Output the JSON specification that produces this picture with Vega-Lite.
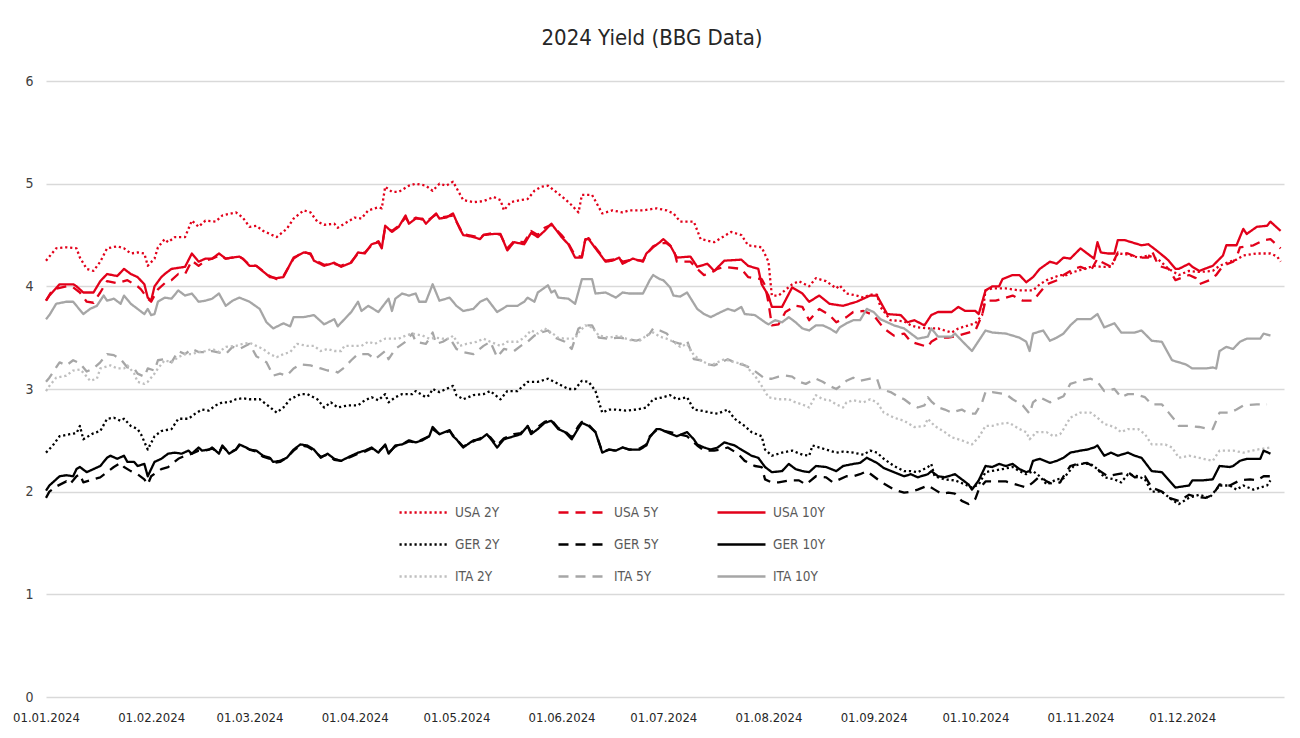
{
"$schema":"https://vega.github.io/schema/vega-lite/v6.json",
"width":1238,"height":616,
"autosize":{"type":"none"},
"padding":{"left":46,"top":81,"right":16,"bottom":41},
"background":"white",
"title":{"text":"2024 Yield (BBG Data)","fontSize":22,"font":"Liberation Sans Narrow, DejaVu Sans Condensed, Roboto","fontWeight":"normal","color":"#262626","anchor":"middle","dx":-13,"offset":24},
"data":{"values":[
{"d":"2024-01-01","s":"USA 10Y","v":3.86},{"d":"2024-01-02","s":"USA 10Y","v":3.91},{"d":"2024-01-05","s":"USA 10Y","v":4.02},{"d":"2024-01-09","s":"USA 10Y","v":4.02},{"d":"2024-01-10","s":"USA 10Y","v":4.0},{"d":"2024-01-12","s":"USA 10Y","v":3.94},{"d":"2024-01-15","s":"USA 10Y","v":3.94},{"d":"2024-01-17","s":"USA 10Y","v":4.05},{"d":"2024-01-19","s":"USA 10Y","v":4.12},{"d":"2024-01-22","s":"USA 10Y","v":4.1},{"d":"2024-01-24","s":"USA 10Y","v":4.17},{"d":"2024-01-26","s":"USA 10Y","v":4.12},{"d":"2024-01-28","s":"USA 10Y","v":4.09},{"d":"2024-01-30","s":"USA 10Y","v":4.02},{"d":"2024-01-31","s":"USA 10Y","v":3.89},{"d":"2024-02-01","s":"USA 10Y","v":3.86},{"d":"2024-02-02","s":"USA 10Y","v":4.0},{"d":"2024-02-04","s":"USA 10Y","v":4.09},{"d":"2024-02-05","s":"USA 10Y","v":4.12},{"d":"2024-02-07","s":"USA 10Y","v":4.17},{"d":"2024-02-11","s":"USA 10Y","v":4.19},{"d":"2024-02-13","s":"USA 10Y","v":4.32},{"d":"2024-02-15","s":"USA 10Y","v":4.24},{"d":"2024-02-17","s":"USA 10Y","v":4.27},{"d":"2024-02-19","s":"USA 10Y","v":4.27},{"d":"2024-02-21","s":"USA 10Y","v":4.32},{"d":"2024-02-23","s":"USA 10Y","v":4.27},{"d":"2024-02-27","s":"USA 10Y","v":4.29},{"d":"2024-02-28","s":"USA 10Y","v":4.27},{"d":"2024-03-01","s":"USA 10Y","v":4.2},{"d":"2024-03-03","s":"USA 10Y","v":4.2},{"d":"2024-03-07","s":"USA 10Y","v":4.09},{"d":"2024-03-09","s":"USA 10Y","v":4.08},{"d":"2024-03-11","s":"USA 10Y","v":4.09},{"d":"2024-03-14","s":"USA 10Y","v":4.28},{"d":"2024-03-17","s":"USA 10Y","v":4.33},{"d":"2024-03-19","s":"USA 10Y","v":4.32},{"d":"2024-03-20","s":"USA 10Y","v":4.25},{"d":"2024-03-23","s":"USA 10Y","v":4.2},{"d":"2024-03-26","s":"USA 10Y","v":4.23},{"d":"2024-03-28","s":"USA 10Y","v":4.19},{"d":"2024-03-31","s":"USA 10Y","v":4.23},{"d":"2024-04-02","s":"USA 10Y","v":4.33},{"d":"2024-04-04","s":"USA 10Y","v":4.32},{"d":"2024-04-06","s":"USA 10Y","v":4.41},{"d":"2024-04-08","s":"USA 10Y","v":4.43},{"d":"2024-04-09","s":"USA 10Y","v":4.37},{"d":"2024-04-10","s":"USA 10Y","v":4.59},{"d":"2024-04-12","s":"USA 10Y","v":4.53},{"d":"2024-04-14","s":"USA 10Y","v":4.58},{"d":"2024-04-16","s":"USA 10Y","v":4.69},{"d":"2024-04-17","s":"USA 10Y","v":4.61},{"d":"2024-04-19","s":"USA 10Y","v":4.66},{"d":"2024-04-21","s":"USA 10Y","v":4.66},{"d":"2024-04-22","s":"USA 10Y","v":4.61},{"d":"2024-04-25","s":"USA 10Y","v":4.71},{"d":"2024-04-26","s":"USA 10Y","v":4.66},{"d":"2024-04-28","s":"USA 10Y","v":4.67},{"d":"2024-04-30","s":"USA 10Y","v":4.71},{"d":"2024-05-02","s":"USA 10Y","v":4.56},{"d":"2024-05-03","s":"USA 10Y","v":4.5},{"d":"2024-05-06","s":"USA 10Y","v":4.48},{"d":"2024-05-08","s":"USA 10Y","v":4.46},{"d":"2024-05-09","s":"USA 10Y","v":4.5},{"d":"2024-05-12","s":"USA 10Y","v":4.51},{"d":"2024-05-14","s":"USA 10Y","v":4.51},{"d":"2024-05-16","s":"USA 10Y","v":4.35},{"d":"2024-05-18","s":"USA 10Y","v":4.43},{"d":"2024-05-21","s":"USA 10Y","v":4.41},{"d":"2024-05-23","s":"USA 10Y","v":4.52},{"d":"2024-05-25","s":"USA 10Y","v":4.48},{"d":"2024-05-27","s":"USA 10Y","v":4.54},{"d":"2024-05-29","s":"USA 10Y","v":4.61},{"d":"2024-06-01","s":"USA 10Y","v":4.48},{"d":"2024-06-03","s":"USA 10Y","v":4.41},{"d":"2024-06-05","s":"USA 10Y","v":4.28},{"d":"2024-06-07","s":"USA 10Y","v":4.28},{"d":"2024-06-08","s":"USA 10Y","v":4.46},{"d":"2024-06-09","s":"USA 10Y","v":4.46},{"d":"2024-06-11","s":"USA 10Y","v":4.37},{"d":"2024-06-14","s":"USA 10Y","v":4.24},{"d":"2024-06-16","s":"USA 10Y","v":4.25},{"d":"2024-06-18","s":"USA 10Y","v":4.28},{"d":"2024-06-19","s":"USA 10Y","v":4.22},{"d":"2024-06-22","s":"USA 10Y","v":4.27},{"d":"2024-06-25","s":"USA 10Y","v":4.24},{"d":"2024-06-26","s":"USA 10Y","v":4.32},{"d":"2024-06-28","s":"USA 10Y","v":4.38},{"d":"2024-06-30","s":"USA 10Y","v":4.43},{"d":"2024-07-01","s":"USA 10Y","v":4.46},{"d":"2024-07-03","s":"USA 10Y","v":4.4},{"d":"2024-07-05","s":"USA 10Y","v":4.28},{"d":"2024-07-09","s":"USA 10Y","v":4.29},{"d":"2024-07-11","s":"USA 10Y","v":4.19},{"d":"2024-07-14","s":"USA 10Y","v":4.22},{"d":"2024-07-16","s":"USA 10Y","v":4.15},{"d":"2024-07-19","s":"USA 10Y","v":4.25},{"d":"2024-07-24","s":"USA 10Y","v":4.26},{"d":"2024-07-26","s":"USA 10Y","v":4.2},{"d":"2024-07-29","s":"USA 10Y","v":4.17},{"d":"2024-07-30","s":"USA 10Y","v":4.02},{"d":"2024-08-01","s":"USA 10Y","v":3.91},{"d":"2024-08-02","s":"USA 10Y","v":3.8},{"d":"2024-08-05","s":"USA 10Y","v":3.8},{"d":"2024-08-08","s":"USA 10Y","v":3.99},{"d":"2024-08-11","s":"USA 10Y","v":3.93},{"d":"2024-08-13","s":"USA 10Y","v":3.85},{"d":"2024-08-16","s":"USA 10Y","v":3.91},{"d":"2024-08-19","s":"USA 10Y","v":3.83},{"d":"2024-08-23","s":"USA 10Y","v":3.81},{"d":"2024-08-27","s":"USA 10Y","v":3.85},{"d":"2024-08-29","s":"USA 10Y","v":3.88},{"d":"2024-08-31","s":"USA 10Y","v":3.91},{"d":"2024-09-02","s":"USA 10Y","v":3.91},{"d":"2024-09-05","s":"USA 10Y","v":3.73},{"d":"2024-09-09","s":"USA 10Y","v":3.72},{"d":"2024-09-11","s":"USA 10Y","v":3.65},{"d":"2024-09-13","s":"USA 10Y","v":3.67},{"d":"2024-09-16","s":"USA 10Y","v":3.62},{"d":"2024-09-18","s":"USA 10Y","v":3.72},{"d":"2024-09-20","s":"USA 10Y","v":3.75},{"d":"2024-09-24","s":"USA 10Y","v":3.75},{"d":"2024-09-26","s":"USA 10Y","v":3.8},{"d":"2024-09-28","s":"USA 10Y","v":3.76},{"d":"2024-10-01","s":"USA 10Y","v":3.76},{"d":"2024-10-02","s":"USA 10Y","v":3.73},{"d":"2024-10-04","s":"USA 10Y","v":3.96},{"d":"2024-10-06","s":"USA 10Y","v":4.0},{"d":"2024-10-08","s":"USA 10Y","v":4.0},{"d":"2024-10-09","s":"USA 10Y","v":4.07},{"d":"2024-10-12","s":"USA 10Y","v":4.11},{"d":"2024-10-14","s":"USA 10Y","v":4.11},{"d":"2024-10-16","s":"USA 10Y","v":4.04},{"d":"2024-10-18","s":"USA 10Y","v":4.09},{"d":"2024-10-20","s":"USA 10Y","v":4.17},{"d":"2024-10-23","s":"USA 10Y","v":4.24},{"d":"2024-10-25","s":"USA 10Y","v":4.22},{"d":"2024-10-27","s":"USA 10Y","v":4.28},{"d":"2024-10-29","s":"USA 10Y","v":4.27},{"d":"2024-11-01","s":"USA 10Y","v":4.37},{"d":"2024-11-03","s":"USA 10Y","v":4.32},{"d":"2024-11-05","s":"USA 10Y","v":4.27},{"d":"2024-11-06","s":"USA 10Y","v":4.43},{"d":"2024-11-07","s":"USA 10Y","v":4.33},{"d":"2024-11-09","s":"USA 10Y","v":4.32},{"d":"2024-11-11","s":"USA 10Y","v":4.32},{"d":"2024-11-12","s":"USA 10Y","v":4.45},{"d":"2024-11-14","s":"USA 10Y","v":4.45},{"d":"2024-11-16","s":"USA 10Y","v":4.43},{"d":"2024-11-19","s":"USA 10Y","v":4.4},{"d":"2024-11-21","s":"USA 10Y","v":4.41},{"d":"2024-11-23","s":"USA 10Y","v":4.36},{"d":"2024-11-26","s":"USA 10Y","v":4.28},{"d":"2024-11-27","s":"USA 10Y","v":4.25},{"d":"2024-11-29","s":"USA 10Y","v":4.17},{"d":"2024-11-30","s":"USA 10Y","v":4.17},{"d":"2024-12-03","s":"USA 10Y","v":4.22},{"d":"2024-12-04","s":"USA 10Y","v":4.19},{"d":"2024-12-06","s":"USA 10Y","v":4.15},{"d":"2024-12-10","s":"USA 10Y","v":4.2},{"d":"2024-12-13","s":"USA 10Y","v":4.3},{"d":"2024-12-14","s":"USA 10Y","v":4.4},{"d":"2024-12-17","s":"USA 10Y","v":4.4},{"d":"2024-12-19","s":"USA 10Y","v":4.56},{"d":"2024-12-20","s":"USA 10Y","v":4.51},{"d":"2024-12-23","s":"USA 10Y","v":4.58},{"d":"2024-12-26","s":"USA 10Y","v":4.59},{"d":"2024-12-27","s":"USA 10Y","v":4.63},{"d":"2024-12-30","s":"USA 10Y","v":4.54},
{"d":"2024-01-01","s":"USA 5Y","v":3.86},{"d":"2024-01-03","s":"USA 5Y","v":3.97},{"d":"2024-01-07","s":"USA 5Y","v":4.0},{"d":"2024-01-09","s":"USA 5Y","v":3.99},{"d":"2024-01-11","s":"USA 5Y","v":3.94},{"d":"2024-01-13","s":"USA 5Y","v":3.85},{"d":"2024-01-15","s":"USA 5Y","v":3.84},{"d":"2024-01-17","s":"USA 5Y","v":3.94},{"d":"2024-01-19","s":"USA 5Y","v":4.05},{"d":"2024-01-22","s":"USA 5Y","v":4.03},{"d":"2024-01-25","s":"USA 5Y","v":4.06},{"d":"2024-01-28","s":"USA 5Y","v":4.0},{"d":"2024-01-29","s":"USA 5Y","v":3.97},{"d":"2024-01-31","s":"USA 5Y","v":3.88},{"d":"2024-02-01","s":"USA 5Y","v":3.85},{"d":"2024-02-03","s":"USA 5Y","v":3.97},{"d":"2024-02-05","s":"USA 5Y","v":4.03},{"d":"2024-02-07","s":"USA 5Y","v":4.06},{"d":"2024-02-09","s":"USA 5Y","v":4.12},{"d":"2024-02-11","s":"USA 5Y","v":4.12},{"d":"2024-02-13","s":"USA 5Y","v":4.25},{"d":"2024-02-15","s":"USA 5Y","v":4.2},{"d":"2024-02-17","s":"USA 5Y","v":4.25},{"d":"2024-02-19","s":"USA 5Y","v":4.27},{"d":"2024-02-21","s":"USA 5Y","v":4.3},{"d":"2024-02-23","s":"USA 5Y","v":4.27},{"d":"2024-02-27","s":"USA 5Y","v":4.29},{"d":"2024-02-28","s":"USA 5Y","v":4.27},{"d":"2024-03-01","s":"USA 5Y","v":4.21},{"d":"2024-03-03","s":"USA 5Y","v":4.2},{"d":"2024-03-07","s":"USA 5Y","v":4.1},{"d":"2024-03-09","s":"USA 5Y","v":4.07},{"d":"2024-03-11","s":"USA 5Y","v":4.1},{"d":"2024-03-14","s":"USA 5Y","v":4.27},{"d":"2024-03-17","s":"USA 5Y","v":4.34},{"d":"2024-03-19","s":"USA 5Y","v":4.31},{"d":"2024-03-20","s":"USA 5Y","v":4.26},{"d":"2024-03-23","s":"USA 5Y","v":4.21},{"d":"2024-03-26","s":"USA 5Y","v":4.22},{"d":"2024-03-28","s":"USA 5Y","v":4.2},{"d":"2024-03-31","s":"USA 5Y","v":4.24},{"d":"2024-04-02","s":"USA 5Y","v":4.32},{"d":"2024-04-04","s":"USA 5Y","v":4.33},{"d":"2024-04-06","s":"USA 5Y","v":4.4},{"d":"2024-04-08","s":"USA 5Y","v":4.44},{"d":"2024-04-09","s":"USA 5Y","v":4.38},{"d":"2024-04-10","s":"USA 5Y","v":4.57},{"d":"2024-04-12","s":"USA 5Y","v":4.54},{"d":"2024-04-14","s":"USA 5Y","v":4.59},{"d":"2024-04-16","s":"USA 5Y","v":4.67},{"d":"2024-04-17","s":"USA 5Y","v":4.62},{"d":"2024-04-19","s":"USA 5Y","v":4.67},{"d":"2024-04-21","s":"USA 5Y","v":4.65},{"d":"2024-04-22","s":"USA 5Y","v":4.63},{"d":"2024-04-25","s":"USA 5Y","v":4.7},{"d":"2024-04-26","s":"USA 5Y","v":4.67},{"d":"2024-04-28","s":"USA 5Y","v":4.68},{"d":"2024-04-30","s":"USA 5Y","v":4.69},{"d":"2024-05-02","s":"USA 5Y","v":4.57},{"d":"2024-05-03","s":"USA 5Y","v":4.51},{"d":"2024-05-06","s":"USA 5Y","v":4.49},{"d":"2024-05-08","s":"USA 5Y","v":4.47},{"d":"2024-05-09","s":"USA 5Y","v":4.5},{"d":"2024-05-12","s":"USA 5Y","v":4.52},{"d":"2024-05-14","s":"USA 5Y","v":4.5},{"d":"2024-05-16","s":"USA 5Y","v":4.37},{"d":"2024-05-18","s":"USA 5Y","v":4.44},{"d":"2024-05-21","s":"USA 5Y","v":4.43},{"d":"2024-05-23","s":"USA 5Y","v":4.54},{"d":"2024-05-25","s":"USA 5Y","v":4.5},{"d":"2024-05-27","s":"USA 5Y","v":4.57},{"d":"2024-05-29","s":"USA 5Y","v":4.6},{"d":"2024-06-01","s":"USA 5Y","v":4.5},{"d":"2024-06-03","s":"USA 5Y","v":4.42},{"d":"2024-06-05","s":"USA 5Y","v":4.3},{"d":"2024-06-07","s":"USA 5Y","v":4.29},{"d":"2024-06-08","s":"USA 5Y","v":4.45},{"d":"2024-06-09","s":"USA 5Y","v":4.47},{"d":"2024-06-11","s":"USA 5Y","v":4.38},{"d":"2024-06-14","s":"USA 5Y","v":4.25},{"d":"2024-06-16","s":"USA 5Y","v":4.26},{"d":"2024-06-18","s":"USA 5Y","v":4.27},{"d":"2024-06-19","s":"USA 5Y","v":4.24},{"d":"2024-06-22","s":"USA 5Y","v":4.26},{"d":"2024-06-25","s":"USA 5Y","v":4.25},{"d":"2024-06-26","s":"USA 5Y","v":4.31},{"d":"2024-06-28","s":"USA 5Y","v":4.39},{"d":"2024-06-30","s":"USA 5Y","v":4.42},{"d":"2024-07-02","s":"USA 5Y","v":4.42},{"d":"2024-07-04","s":"USA 5Y","v":4.37},{"d":"2024-07-05","s":"USA 5Y","v":4.24},{"d":"2024-07-09","s":"USA 5Y","v":4.24},{"d":"2024-07-11","s":"USA 5Y","v":4.17},{"d":"2024-07-13","s":"USA 5Y","v":4.11},{"d":"2024-07-15","s":"USA 5Y","v":4.13},{"d":"2024-07-17","s":"USA 5Y","v":4.17},{"d":"2024-07-19","s":"USA 5Y","v":4.19},{"d":"2024-07-24","s":"USA 5Y","v":4.17},{"d":"2024-07-26","s":"USA 5Y","v":4.09},{"d":"2024-07-30","s":"USA 5Y","v":4.07},{"d":"2024-07-31","s":"USA 5Y","v":4.01},{"d":"2024-08-01","s":"USA 5Y","v":3.84},{"d":"2024-08-02","s":"USA 5Y","v":3.62},{"d":"2024-08-04","s":"USA 5Y","v":3.63},{"d":"2024-08-06","s":"USA 5Y","v":3.75},{"d":"2024-08-09","s":"USA 5Y","v":3.81},{"d":"2024-08-11","s":"USA 5Y","v":3.8},{"d":"2024-08-13","s":"USA 5Y","v":3.67},{"d":"2024-08-16","s":"USA 5Y","v":3.78},{"d":"2024-08-19","s":"USA 5Y","v":3.72},{"d":"2024-08-21","s":"USA 5Y","v":3.65},{"d":"2024-08-24","s":"USA 5Y","v":3.7},{"d":"2024-08-26","s":"USA 5Y","v":3.75},{"d":"2024-08-29","s":"USA 5Y","v":3.76},{"d":"2024-09-01","s":"USA 5Y","v":3.72},{"d":"2024-09-04","s":"USA 5Y","v":3.59},{"d":"2024-09-07","s":"USA 5Y","v":3.52},{"d":"2024-09-10","s":"USA 5Y","v":3.54},{"d":"2024-09-12","s":"USA 5Y","v":3.46},{"d":"2024-09-14","s":"USA 5Y","v":3.44},{"d":"2024-09-17","s":"USA 5Y","v":3.41},{"d":"2024-09-18","s":"USA 5Y","v":3.46},{"d":"2024-09-20","s":"USA 5Y","v":3.5},{"d":"2024-09-23","s":"USA 5Y","v":3.5},{"d":"2024-09-26","s":"USA 5Y","v":3.52},{"d":"2024-09-29","s":"USA 5Y","v":3.55},{"d":"2024-10-01","s":"USA 5Y","v":3.57},{"d":"2024-10-03","s":"USA 5Y","v":3.72},{"d":"2024-10-04","s":"USA 5Y","v":3.86},{"d":"2024-10-07","s":"USA 5Y","v":3.86},{"d":"2024-10-10","s":"USA 5Y","v":3.89},{"d":"2024-10-12","s":"USA 5Y","v":3.91},{"d":"2024-10-15","s":"USA 5Y","v":3.86},{"d":"2024-10-18","s":"USA 5Y","v":3.86},{"d":"2024-10-20","s":"USA 5Y","v":3.94},{"d":"2024-10-22","s":"USA 5Y","v":4.02},{"d":"2024-10-26","s":"USA 5Y","v":4.07},{"d":"2024-10-27","s":"USA 5Y","v":4.11},{"d":"2024-10-30","s":"USA 5Y","v":4.17},{"d":"2024-11-01","s":"USA 5Y","v":4.19},{"d":"2024-11-04","s":"USA 5Y","v":4.15},{"d":"2024-11-06","s":"USA 5Y","v":4.27},{"d":"2024-11-07","s":"USA 5Y","v":4.24},{"d":"2024-11-10","s":"USA 5Y","v":4.19},{"d":"2024-11-12","s":"USA 5Y","v":4.33},{"d":"2024-11-15","s":"USA 5Y","v":4.32},{"d":"2024-11-18","s":"USA 5Y","v":4.28},{"d":"2024-11-21","s":"USA 5Y","v":4.28},{"d":"2024-11-22","s":"USA 5Y","v":4.35},{"d":"2024-11-24","s":"USA 5Y","v":4.2},{"d":"2024-11-27","s":"USA 5Y","v":4.17},{"d":"2024-11-29","s":"USA 5Y","v":4.06},{"d":"2024-12-03","s":"USA 5Y","v":4.11},{"d":"2024-12-05","s":"USA 5Y","v":4.08},{"d":"2024-12-06","s":"USA 5Y","v":4.02},{"d":"2024-12-09","s":"USA 5Y","v":4.06},{"d":"2024-12-11","s":"USA 5Y","v":4.11},{"d":"2024-12-13","s":"USA 5Y","v":4.2},{"d":"2024-12-16","s":"USA 5Y","v":4.24},{"d":"2024-12-17","s":"USA 5Y","v":4.28},{"d":"2024-12-18","s":"USA 5Y","v":4.38},{"d":"2024-12-22","s":"USA 5Y","v":4.4},{"d":"2024-12-25","s":"USA 5Y","v":4.45},{"d":"2024-12-27","s":"USA 5Y","v":4.46},{"d":"2024-12-30","s":"USA 5Y","v":4.37},
{"d":"2024-01-01","s":"USA 2Y","v":4.25},{"d":"2024-01-04","s":"USA 2Y","v":4.37},{"d":"2024-01-07","s":"USA 2Y","v":4.38},{"d":"2024-01-10","s":"USA 2Y","v":4.37},{"d":"2024-01-11","s":"USA 2Y","v":4.28},{"d":"2024-01-13","s":"USA 2Y","v":4.17},{"d":"2024-01-15","s":"USA 2Y","v":4.15},{"d":"2024-01-17","s":"USA 2Y","v":4.24},{"d":"2024-01-19","s":"USA 2Y","v":4.37},{"d":"2024-01-22","s":"USA 2Y","v":4.39},{"d":"2024-01-24","s":"USA 2Y","v":4.37},{"d":"2024-01-26","s":"USA 2Y","v":4.32},{"d":"2024-01-28","s":"USA 2Y","v":4.33},{"d":"2024-01-30","s":"USA 2Y","v":4.32},{"d":"2024-01-31","s":"USA 2Y","v":4.2},{"d":"2024-02-02","s":"USA 2Y","v":4.27},{"d":"2024-02-03","s":"USA 2Y","v":4.38},{"d":"2024-02-05","s":"USA 2Y","v":4.46},{"d":"2024-02-06","s":"USA 2Y","v":4.43},{"d":"2024-02-08","s":"USA 2Y","v":4.48},{"d":"2024-02-11","s":"USA 2Y","v":4.48},{"d":"2024-02-13","s":"USA 2Y","v":4.64},{"d":"2024-02-15","s":"USA 2Y","v":4.58},{"d":"2024-02-17","s":"USA 2Y","v":4.64},{"d":"2024-02-20","s":"USA 2Y","v":4.63},{"d":"2024-02-22","s":"USA 2Y","v":4.69},{"d":"2024-02-26","s":"USA 2Y","v":4.72},{"d":"2024-02-28","s":"USA 2Y","v":4.67},{"d":"2024-03-01","s":"USA 2Y","v":4.58},{"d":"2024-03-03","s":"USA 2Y","v":4.59},{"d":"2024-03-05","s":"USA 2Y","v":4.54},{"d":"2024-03-09","s":"USA 2Y","v":4.48},{"d":"2024-03-12","s":"USA 2Y","v":4.56},{"d":"2024-03-14","s":"USA 2Y","v":4.66},{"d":"2024-03-17","s":"USA 2Y","v":4.74},{"d":"2024-03-19","s":"USA 2Y","v":4.72},{"d":"2024-03-21","s":"USA 2Y","v":4.63},{"d":"2024-03-23","s":"USA 2Y","v":4.6},{"d":"2024-03-26","s":"USA 2Y","v":4.61},{"d":"2024-03-27","s":"USA 2Y","v":4.57},{"d":"2024-03-30","s":"USA 2Y","v":4.63},{"d":"2024-04-01","s":"USA 2Y","v":4.67},{"d":"2024-04-03","s":"USA 2Y","v":4.66},{"d":"2024-04-05","s":"USA 2Y","v":4.74},{"d":"2024-04-08","s":"USA 2Y","v":4.77},{"d":"2024-04-09","s":"USA 2Y","v":4.76},{"d":"2024-04-10","s":"USA 2Y","v":4.97},{"d":"2024-04-12","s":"USA 2Y","v":4.92},{"d":"2024-04-14","s":"USA 2Y","v":4.92},{"d":"2024-04-17","s":"USA 2Y","v":4.98},{"d":"2024-04-19","s":"USA 2Y","v":5.0},{"d":"2024-04-22","s":"USA 2Y","v":4.98},{"d":"2024-04-24","s":"USA 2Y","v":4.93},{"d":"2024-04-26","s":"USA 2Y","v":5.0},{"d":"2024-04-28","s":"USA 2Y","v":4.98},{"d":"2024-04-30","s":"USA 2Y","v":5.02},{"d":"2024-05-03","s":"USA 2Y","v":4.84},{"d":"2024-05-06","s":"USA 2Y","v":4.82},{"d":"2024-05-09","s":"USA 2Y","v":4.83},{"d":"2024-05-12","s":"USA 2Y","v":4.87},{"d":"2024-05-14","s":"USA 2Y","v":4.84},{"d":"2024-05-15","s":"USA 2Y","v":4.74},{"d":"2024-05-17","s":"USA 2Y","v":4.82},{"d":"2024-05-20","s":"USA 2Y","v":4.84},{"d":"2024-05-22","s":"USA 2Y","v":4.85},{"d":"2024-05-24","s":"USA 2Y","v":4.93},{"d":"2024-05-26","s":"USA 2Y","v":4.97},{"d":"2024-05-28","s":"USA 2Y","v":4.98},{"d":"2024-05-30","s":"USA 2Y","v":4.93},{"d":"2024-06-02","s":"USA 2Y","v":4.85},{"d":"2024-06-04","s":"USA 2Y","v":4.79},{"d":"2024-06-06","s":"USA 2Y","v":4.72},{"d":"2024-06-07","s":"USA 2Y","v":4.89},{"d":"2024-06-10","s":"USA 2Y","v":4.89},{"d":"2024-06-13","s":"USA 2Y","v":4.71},{"d":"2024-06-16","s":"USA 2Y","v":4.74},{"d":"2024-06-19","s":"USA 2Y","v":4.72},{"d":"2024-06-21","s":"USA 2Y","v":4.74},{"d":"2024-06-25","s":"USA 2Y","v":4.74},{"d":"2024-06-29","s":"USA 2Y","v":4.76},{"d":"2024-07-02","s":"USA 2Y","v":4.74},{"d":"2024-07-04","s":"USA 2Y","v":4.71},{"d":"2024-07-06","s":"USA 2Y","v":4.63},{"d":"2024-07-10","s":"USA 2Y","v":4.63},{"d":"2024-07-12","s":"USA 2Y","v":4.46},{"d":"2024-07-16","s":"USA 2Y","v":4.43},{"d":"2024-07-21","s":"USA 2Y","v":4.53},{"d":"2024-07-24","s":"USA 2Y","v":4.5},{"d":"2024-07-26","s":"USA 2Y","v":4.4},{"d":"2024-07-30","s":"USA 2Y","v":4.38},{"d":"2024-08-01","s":"USA 2Y","v":4.24},{"d":"2024-08-02","s":"USA 2Y","v":3.91},{"d":"2024-08-04","s":"USA 2Y","v":3.91},{"d":"2024-08-08","s":"USA 2Y","v":4.02},{"d":"2024-08-10","s":"USA 2Y","v":4.05},{"d":"2024-08-13","s":"USA 2Y","v":4.0},{"d":"2024-08-15","s":"USA 2Y","v":4.08},{"d":"2024-08-18","s":"USA 2Y","v":4.05},{"d":"2024-08-21","s":"USA 2Y","v":3.98},{"d":"2024-08-22","s":"USA 2Y","v":4.01},{"d":"2024-08-24","s":"USA 2Y","v":3.93},{"d":"2024-08-27","s":"USA 2Y","v":3.91},{"d":"2024-08-29","s":"USA 2Y","v":3.89},{"d":"2024-08-31","s":"USA 2Y","v":3.92},{"d":"2024-09-02","s":"USA 2Y","v":3.92},{"d":"2024-09-03","s":"USA 2Y","v":3.8},{"d":"2024-09-06","s":"USA 2Y","v":3.67},{"d":"2024-09-10","s":"USA 2Y","v":3.66},{"d":"2024-09-12","s":"USA 2Y","v":3.62},{"d":"2024-09-14","s":"USA 2Y","v":3.6},{"d":"2024-09-17","s":"USA 2Y","v":3.59},{"d":"2024-09-20","s":"USA 2Y","v":3.59},{"d":"2024-09-24","s":"USA 2Y","v":3.55},{"d":"2024-09-26","s":"USA 2Y","v":3.59},{"d":"2024-09-29","s":"USA 2Y","v":3.62},{"d":"2024-10-01","s":"USA 2Y","v":3.64},{"d":"2024-10-03","s":"USA 2Y","v":3.72},{"d":"2024-10-04","s":"USA 2Y","v":3.96},{"d":"2024-10-06","s":"USA 2Y","v":3.98},{"d":"2024-10-10","s":"USA 2Y","v":3.98},{"d":"2024-10-14","s":"USA 2Y","v":3.96},{"d":"2024-10-18","s":"USA 2Y","v":3.96},{"d":"2024-10-20","s":"USA 2Y","v":4.02},{"d":"2024-10-22","s":"USA 2Y","v":4.06},{"d":"2024-10-26","s":"USA 2Y","v":4.11},{"d":"2024-10-28","s":"USA 2Y","v":4.11},{"d":"2024-10-30","s":"USA 2Y","v":4.14},{"d":"2024-11-02","s":"USA 2Y","v":4.17},{"d":"2024-11-05","s":"USA 2Y","v":4.2},{"d":"2024-11-07","s":"USA 2Y","v":4.19},{"d":"2024-11-10","s":"USA 2Y","v":4.19},{"d":"2024-11-12","s":"USA 2Y","v":4.32},{"d":"2024-11-15","s":"USA 2Y","v":4.31},{"d":"2024-11-18","s":"USA 2Y","v":4.28},{"d":"2024-11-21","s":"USA 2Y","v":4.3},{"d":"2024-11-24","s":"USA 2Y","v":4.26},{"d":"2024-11-26","s":"USA 2Y","v":4.2},{"d":"2024-11-27","s":"USA 2Y","v":4.17},{"d":"2024-11-30","s":"USA 2Y","v":4.11},{"d":"2024-12-03","s":"USA 2Y","v":4.15},{"d":"2024-12-06","s":"USA 2Y","v":4.14},{"d":"2024-12-10","s":"USA 2Y","v":4.15},{"d":"2024-12-12","s":"USA 2Y","v":4.2},{"d":"2024-12-15","s":"USA 2Y","v":4.24},{"d":"2024-12-17","s":"USA 2Y","v":4.26},{"d":"2024-12-19","s":"USA 2Y","v":4.3},{"d":"2024-12-23","s":"USA 2Y","v":4.32},{"d":"2024-12-27","s":"USA 2Y","v":4.32},{"d":"2024-12-29","s":"USA 2Y","v":4.29},{"d":"2024-12-30","s":"USA 2Y","v":4.24},
{"d":"2024-01-01","s":"ITA 10Y","v":3.68},{"d":"2024-01-02","s":"ITA 10Y","v":3.72},{"d":"2024-01-04","s":"ITA 10Y","v":3.83},{"d":"2024-01-07","s":"ITA 10Y","v":3.85},{"d":"2024-01-09","s":"ITA 10Y","v":3.85},{"d":"2024-01-10","s":"ITA 10Y","v":3.81},{"d":"2024-01-12","s":"ITA 10Y","v":3.73},{"d":"2024-01-14","s":"ITA 10Y","v":3.78},{"d":"2024-01-16","s":"ITA 10Y","v":3.81},{"d":"2024-01-18","s":"ITA 10Y","v":3.91},{"d":"2024-01-19","s":"ITA 10Y","v":3.86},{"d":"2024-01-21","s":"ITA 10Y","v":3.88},{"d":"2024-01-23","s":"ITA 10Y","v":3.83},{"d":"2024-01-24","s":"ITA 10Y","v":3.91},{"d":"2024-01-26","s":"ITA 10Y","v":3.83},{"d":"2024-01-28","s":"ITA 10Y","v":3.78},{"d":"2024-01-30","s":"ITA 10Y","v":3.73},{"d":"2024-01-31","s":"ITA 10Y","v":3.78},{"d":"2024-02-01","s":"ITA 10Y","v":3.72},{"d":"2024-02-02","s":"ITA 10Y","v":3.73},{"d":"2024-02-03","s":"ITA 10Y","v":3.85},{"d":"2024-02-05","s":"ITA 10Y","v":3.89},{"d":"2024-02-07","s":"ITA 10Y","v":3.88},{"d":"2024-02-09","s":"ITA 10Y","v":3.96},{"d":"2024-02-11","s":"ITA 10Y","v":3.91},{"d":"2024-02-13","s":"ITA 10Y","v":3.93},{"d":"2024-02-15","s":"ITA 10Y","v":3.85},{"d":"2024-02-17","s":"ITA 10Y","v":3.86},{"d":"2024-02-19","s":"ITA 10Y","v":3.88},{"d":"2024-02-21","s":"ITA 10Y","v":3.93},{"d":"2024-02-23","s":"ITA 10Y","v":3.81},{"d":"2024-02-25","s":"ITA 10Y","v":3.86},{"d":"2024-02-27","s":"ITA 10Y","v":3.89},{"d":"2024-03-01","s":"ITA 10Y","v":3.85},{"d":"2024-03-04","s":"ITA 10Y","v":3.78},{"d":"2024-03-06","s":"ITA 10Y","v":3.65},{"d":"2024-03-08","s":"ITA 10Y","v":3.59},{"d":"2024-03-11","s":"ITA 10Y","v":3.64},{"d":"2024-03-13","s":"ITA 10Y","v":3.61},{"d":"2024-03-14","s":"ITA 10Y","v":3.7},{"d":"2024-03-17","s":"ITA 10Y","v":3.7},{"d":"2024-03-20","s":"ITA 10Y","v":3.72},{"d":"2024-03-23","s":"ITA 10Y","v":3.63},{"d":"2024-03-26","s":"ITA 10Y","v":3.68},{"d":"2024-03-27","s":"ITA 10Y","v":3.61},{"d":"2024-03-29","s":"ITA 10Y","v":3.68},{"d":"2024-03-31","s":"ITA 10Y","v":3.75},{"d":"2024-04-02","s":"ITA 10Y","v":3.85},{"d":"2024-04-03","s":"ITA 10Y","v":3.76},{"d":"2024-04-05","s":"ITA 10Y","v":3.81},{"d":"2024-04-08","s":"ITA 10Y","v":3.75},{"d":"2024-04-11","s":"ITA 10Y","v":3.88},{"d":"2024-04-12","s":"ITA 10Y","v":3.76},{"d":"2024-04-13","s":"ITA 10Y","v":3.88},{"d":"2024-04-15","s":"ITA 10Y","v":3.93},{"d":"2024-04-17","s":"ITA 10Y","v":3.91},{"d":"2024-04-19","s":"ITA 10Y","v":3.93},{"d":"2024-04-20","s":"ITA 10Y","v":3.85},{"d":"2024-04-22","s":"ITA 10Y","v":3.85},{"d":"2024-04-24","s":"ITA 10Y","v":4.02},{"d":"2024-04-26","s":"ITA 10Y","v":3.86},{"d":"2024-04-29","s":"ITA 10Y","v":3.89},{"d":"2024-05-01","s":"ITA 10Y","v":3.81},{"d":"2024-05-03","s":"ITA 10Y","v":3.76},{"d":"2024-05-06","s":"ITA 10Y","v":3.78},{"d":"2024-05-08","s":"ITA 10Y","v":3.85},{"d":"2024-05-10","s":"ITA 10Y","v":3.88},{"d":"2024-05-13","s":"ITA 10Y","v":3.75},{"d":"2024-05-16","s":"ITA 10Y","v":3.81},{"d":"2024-05-19","s":"ITA 10Y","v":3.81},{"d":"2024-05-21","s":"ITA 10Y","v":3.85},{"d":"2024-05-22","s":"ITA 10Y","v":3.89},{"d":"2024-05-24","s":"ITA 10Y","v":3.85},{"d":"2024-05-25","s":"ITA 10Y","v":3.94},{"d":"2024-05-28","s":"ITA 10Y","v":4.01},{"d":"2024-05-29","s":"ITA 10Y","v":3.94},{"d":"2024-05-30","s":"ITA 10Y","v":3.96},{"d":"2024-05-31","s":"ITA 10Y","v":3.89},{"d":"2024-06-03","s":"ITA 10Y","v":3.88},{"d":"2024-06-05","s":"ITA 10Y","v":3.83},{"d":"2024-06-07","s":"ITA 10Y","v":4.07},{"d":"2024-06-10","s":"ITA 10Y","v":4.07},{"d":"2024-06-11","s":"ITA 10Y","v":3.93},{"d":"2024-06-14","s":"ITA 10Y","v":3.94},{"d":"2024-06-17","s":"ITA 10Y","v":3.89},{"d":"2024-06-19","s":"ITA 10Y","v":3.94},{"d":"2024-06-21","s":"ITA 10Y","v":3.93},{"d":"2024-06-25","s":"ITA 10Y","v":3.93},{"d":"2024-06-27","s":"ITA 10Y","v":4.06},{"d":"2024-06-28","s":"ITA 10Y","v":4.11},{"d":"2024-06-30","s":"ITA 10Y","v":4.07},{"d":"2024-07-01","s":"ITA 10Y","v":4.06},{"d":"2024-07-03","s":"ITA 10Y","v":3.99},{"d":"2024-07-04","s":"ITA 10Y","v":3.91},{"d":"2024-07-06","s":"ITA 10Y","v":3.9},{"d":"2024-07-08","s":"ITA 10Y","v":3.94},{"d":"2024-07-11","s":"ITA 10Y","v":3.78},{"d":"2024-07-13","s":"ITA 10Y","v":3.73},{"d":"2024-07-15","s":"ITA 10Y","v":3.7},{"d":"2024-07-18","s":"ITA 10Y","v":3.75},{"d":"2024-07-20","s":"ITA 10Y","v":3.78},{"d":"2024-07-22","s":"ITA 10Y","v":3.76},{"d":"2024-07-24","s":"ITA 10Y","v":3.8},{"d":"2024-07-25","s":"ITA 10Y","v":3.73},{"d":"2024-07-28","s":"ITA 10Y","v":3.72},{"d":"2024-07-31","s":"ITA 10Y","v":3.65},{"d":"2024-08-01","s":"ITA 10Y","v":3.63},{"d":"2024-08-03","s":"ITA 10Y","v":3.67},{"d":"2024-08-05","s":"ITA 10Y","v":3.65},{"d":"2024-08-07","s":"ITA 10Y","v":3.7},{"d":"2024-08-09","s":"ITA 10Y","v":3.65},{"d":"2024-08-11","s":"ITA 10Y","v":3.59},{"d":"2024-08-13","s":"ITA 10Y","v":3.57},{"d":"2024-08-15","s":"ITA 10Y","v":3.62},{"d":"2024-08-17","s":"ITA 10Y","v":3.62},{"d":"2024-08-19","s":"ITA 10Y","v":3.59},{"d":"2024-08-21","s":"ITA 10Y","v":3.55},{"d":"2024-08-22","s":"ITA 10Y","v":3.6},{"d":"2024-08-24","s":"ITA 10Y","v":3.64},{"d":"2024-08-26","s":"ITA 10Y","v":3.67},{"d":"2024-08-28","s":"ITA 10Y","v":3.67},{"d":"2024-08-30","s":"ITA 10Y","v":3.78},{"d":"2024-09-01","s":"ITA 10Y","v":3.75},{"d":"2024-09-03","s":"ITA 10Y","v":3.68},{"d":"2024-09-07","s":"ITA 10Y","v":3.62},{"d":"2024-09-10","s":"ITA 10Y","v":3.59},{"d":"2024-09-12","s":"ITA 10Y","v":3.54},{"d":"2024-09-14","s":"ITA 10Y","v":3.49},{"d":"2024-09-17","s":"ITA 10Y","v":3.51},{"d":"2024-09-18","s":"ITA 10Y","v":3.59},{"d":"2024-09-20","s":"ITA 10Y","v":3.51},{"d":"2024-09-24","s":"ITA 10Y","v":3.51},{"d":"2024-09-25","s":"ITA 10Y","v":3.54},{"d":"2024-09-27","s":"ITA 10Y","v":3.47},{"d":"2024-09-30","s":"ITA 10Y","v":3.37},{"d":"2024-10-03","s":"ITA 10Y","v":3.52},{"d":"2024-10-04","s":"ITA 10Y","v":3.57},{"d":"2024-10-06","s":"ITA 10Y","v":3.55},{"d":"2024-10-10","s":"ITA 10Y","v":3.54},{"d":"2024-10-14","s":"ITA 10Y","v":3.5},{"d":"2024-10-16","s":"ITA 10Y","v":3.46},{"d":"2024-10-17","s":"ITA 10Y","v":3.37},{"d":"2024-10-18","s":"ITA 10Y","v":3.54},{"d":"2024-10-21","s":"ITA 10Y","v":3.57},{"d":"2024-10-23","s":"ITA 10Y","v":3.47},{"d":"2024-10-25","s":"ITA 10Y","v":3.5},{"d":"2024-10-27","s":"ITA 10Y","v":3.54},{"d":"2024-10-29","s":"ITA 10Y","v":3.62},{"d":"2024-10-31","s":"ITA 10Y","v":3.68},{"d":"2024-11-04","s":"ITA 10Y","v":3.68},{"d":"2024-11-06","s":"ITA 10Y","v":3.73},{"d":"2024-11-08","s":"ITA 10Y","v":3.6},{"d":"2024-11-11","s":"ITA 10Y","v":3.64},{"d":"2024-11-13","s":"ITA 10Y","v":3.55},{"d":"2024-11-17","s":"ITA 10Y","v":3.55},{"d":"2024-11-19","s":"ITA 10Y","v":3.57},{"d":"2024-11-22","s":"ITA 10Y","v":3.47},{"d":"2024-11-25","s":"ITA 10Y","v":3.46},{"d":"2024-11-28","s":"ITA 10Y","v":3.28},{"d":"2024-12-02","s":"ITA 10Y","v":3.24},{"d":"2024-12-04","s":"ITA 10Y","v":3.2},{"d":"2024-12-08","s":"ITA 10Y","v":3.2},{"d":"2024-12-10","s":"ITA 10Y","v":3.21},{"d":"2024-12-11","s":"ITA 10Y","v":3.2},{"d":"2024-12-12","s":"ITA 10Y","v":3.37},{"d":"2024-12-14","s":"ITA 10Y","v":3.41},{"d":"2024-12-16","s":"ITA 10Y","v":3.39},{"d":"2024-12-18","s":"ITA 10Y","v":3.46},{"d":"2024-12-20","s":"ITA 10Y","v":3.49},{"d":"2024-12-24","s":"ITA 10Y","v":3.49},{"d":"2024-12-25","s":"ITA 10Y","v":3.54},{"d":"2024-12-27","s":"ITA 10Y","v":3.52},
{"d":"2024-01-01","s":"ITA 5Y","v":3.07},{"d":"2024-01-02","s":"ITA 5Y","v":3.11},{"d":"2024-01-05","s":"ITA 5Y","v":3.26},{"d":"2024-01-07","s":"ITA 5Y","v":3.23},{"d":"2024-01-09","s":"ITA 5Y","v":3.28},{"d":"2024-01-11","s":"ITA 5Y","v":3.25},{"d":"2024-01-13","s":"ITA 5Y","v":3.17},{"d":"2024-01-15","s":"ITA 5Y","v":3.2},{"d":"2024-01-17","s":"ITA 5Y","v":3.26},{"d":"2024-01-19","s":"ITA 5Y","v":3.34},{"d":"2024-01-21","s":"ITA 5Y","v":3.33},{"d":"2024-01-23","s":"ITA 5Y","v":3.29},{"d":"2024-01-25","s":"ITA 5Y","v":3.21},{"d":"2024-01-27","s":"ITA 5Y","v":3.2},{"d":"2024-01-28","s":"ITA 5Y","v":3.15},{"d":"2024-01-30","s":"ITA 5Y","v":3.12},{"d":"2024-01-31","s":"ITA 5Y","v":3.2},{"d":"2024-02-02","s":"ITA 5Y","v":3.18},{"d":"2024-02-03","s":"ITA 5Y","v":3.28},{"d":"2024-02-05","s":"ITA 5Y","v":3.29},{"d":"2024-02-07","s":"ITA 5Y","v":3.26},{"d":"2024-02-09","s":"ITA 5Y","v":3.37},{"d":"2024-02-11","s":"ITA 5Y","v":3.34},{"d":"2024-02-13","s":"ITA 5Y","v":3.39},{"d":"2024-02-15","s":"ITA 5Y","v":3.36},{"d":"2024-02-17","s":"ITA 5Y","v":3.36},{"d":"2024-02-19","s":"ITA 5Y","v":3.37},{"d":"2024-02-23","s":"ITA 5Y","v":3.34},{"d":"2024-02-25","s":"ITA 5Y","v":3.41},{"d":"2024-02-27","s":"ITA 5Y","v":3.39},{"d":"2024-03-01","s":"ITA 5Y","v":3.44},{"d":"2024-03-03","s":"ITA 5Y","v":3.32},{"d":"2024-03-06","s":"ITA 5Y","v":3.26},{"d":"2024-03-08","s":"ITA 5Y","v":3.13},{"d":"2024-03-10","s":"ITA 5Y","v":3.15},{"d":"2024-03-12","s":"ITA 5Y","v":3.13},{"d":"2024-03-14","s":"ITA 5Y","v":3.2},{"d":"2024-03-16","s":"ITA 5Y","v":3.24},{"d":"2024-03-19","s":"ITA 5Y","v":3.23},{"d":"2024-03-22","s":"ITA 5Y","v":3.2},{"d":"2024-03-24","s":"ITA 5Y","v":3.18},{"d":"2024-03-26","s":"ITA 5Y","v":3.18},{"d":"2024-03-27","s":"ITA 5Y","v":3.16},{"d":"2024-03-29","s":"ITA 5Y","v":3.21},{"d":"2024-03-31","s":"ITA 5Y","v":3.28},{"d":"2024-04-02","s":"ITA 5Y","v":3.34},{"d":"2024-04-05","s":"ITA 5Y","v":3.34},{"d":"2024-04-07","s":"ITA 5Y","v":3.29},{"d":"2024-04-10","s":"ITA 5Y","v":3.37},{"d":"2024-04-11","s":"ITA 5Y","v":3.29},{"d":"2024-04-13","s":"ITA 5Y","v":3.39},{"d":"2024-04-16","s":"ITA 5Y","v":3.46},{"d":"2024-04-18","s":"ITA 5Y","v":3.54},{"d":"2024-04-19","s":"ITA 5Y","v":3.46},{"d":"2024-04-22","s":"ITA 5Y","v":3.44},{"d":"2024-04-23","s":"ITA 5Y","v":3.49},{"d":"2024-04-24","s":"ITA 5Y","v":3.55},{"d":"2024-04-25","s":"ITA 5Y","v":3.44},{"d":"2024-04-27","s":"ITA 5Y","v":3.46},{"d":"2024-04-29","s":"ITA 5Y","v":3.5},{"d":"2024-05-01","s":"ITA 5Y","v":3.39},{"d":"2024-05-03","s":"ITA 5Y","v":3.36},{"d":"2024-05-06","s":"ITA 5Y","v":3.34},{"d":"2024-05-09","s":"ITA 5Y","v":3.42},{"d":"2024-05-11","s":"ITA 5Y","v":3.46},{"d":"2024-05-13","s":"ITA 5Y","v":3.31},{"d":"2024-05-15","s":"ITA 5Y","v":3.39},{"d":"2024-05-18","s":"ITA 5Y","v":3.37},{"d":"2024-05-20","s":"ITA 5Y","v":3.42},{"d":"2024-05-22","s":"ITA 5Y","v":3.46},{"d":"2024-05-24","s":"ITA 5Y","v":3.52},{"d":"2024-05-26","s":"ITA 5Y","v":3.55},{"d":"2024-05-28","s":"ITA 5Y","v":3.57},{"d":"2024-05-30","s":"ITA 5Y","v":3.5},{"d":"2024-06-02","s":"ITA 5Y","v":3.46},{"d":"2024-06-04","s":"ITA 5Y","v":3.39},{"d":"2024-06-06","s":"ITA 5Y","v":3.59},{"d":"2024-06-08","s":"ITA 5Y","v":3.62},{"d":"2024-06-10","s":"ITA 5Y","v":3.62},{"d":"2024-06-12","s":"ITA 5Y","v":3.5},{"d":"2024-06-15","s":"ITA 5Y","v":3.49},{"d":"2024-06-18","s":"ITA 5Y","v":3.5},{"d":"2024-06-20","s":"ITA 5Y","v":3.49},{"d":"2024-06-23","s":"ITA 5Y","v":3.47},{"d":"2024-06-25","s":"ITA 5Y","v":3.49},{"d":"2024-06-27","s":"ITA 5Y","v":3.54},{"d":"2024-06-28","s":"ITA 5Y","v":3.59},{"d":"2024-06-30","s":"ITA 5Y","v":3.57},{"d":"2024-07-02","s":"ITA 5Y","v":3.54},{"d":"2024-07-04","s":"ITA 5Y","v":3.46},{"d":"2024-07-06","s":"ITA 5Y","v":3.44},{"d":"2024-07-08","s":"ITA 5Y","v":3.47},{"d":"2024-07-10","s":"ITA 5Y","v":3.29},{"d":"2024-07-12","s":"ITA 5Y","v":3.28},{"d":"2024-07-14","s":"ITA 5Y","v":3.24},{"d":"2024-07-16","s":"ITA 5Y","v":3.23},{"d":"2024-07-18","s":"ITA 5Y","v":3.26},{"d":"2024-07-20","s":"ITA 5Y","v":3.29},{"d":"2024-07-22","s":"ITA 5Y","v":3.26},{"d":"2024-07-24","s":"ITA 5Y","v":3.24},{"d":"2024-07-25","s":"ITA 5Y","v":3.23},{"d":"2024-07-27","s":"ITA 5Y","v":3.2},{"d":"2024-07-29","s":"ITA 5Y","v":3.15},{"d":"2024-07-31","s":"ITA 5Y","v":3.1},{"d":"2024-08-02","s":"ITA 5Y","v":3.1},{"d":"2024-08-04","s":"ITA 5Y","v":3.12},{"d":"2024-08-06","s":"ITA 5Y","v":3.13},{"d":"2024-08-08","s":"ITA 5Y","v":3.12},{"d":"2024-08-10","s":"ITA 5Y","v":3.07},{"d":"2024-08-12","s":"ITA 5Y","v":3.05},{"d":"2024-08-15","s":"ITA 5Y","v":3.1},{"d":"2024-08-17","s":"ITA 5Y","v":3.07},{"d":"2024-08-19","s":"ITA 5Y","v":3.03},{"d":"2024-08-21","s":"ITA 5Y","v":3.0},{"d":"2024-08-23","s":"ITA 5Y","v":3.05},{"d":"2024-08-24","s":"ITA 5Y","v":3.08},{"d":"2024-08-26","s":"ITA 5Y","v":3.11},{"d":"2024-08-28","s":"ITA 5Y","v":3.08},{"d":"2024-08-31","s":"ITA 5Y","v":3.1},{"d":"2024-09-02","s":"ITA 5Y","v":3.1},{"d":"2024-09-03","s":"ITA 5Y","v":3.0},{"d":"2024-09-06","s":"ITA 5Y","v":2.97},{"d":"2024-09-08","s":"ITA 5Y","v":2.93},{"d":"2024-09-10","s":"ITA 5Y","v":2.9},{"d":"2024-09-12","s":"ITA 5Y","v":2.85},{"d":"2024-09-14","s":"ITA 5Y","v":2.82},{"d":"2024-09-16","s":"ITA 5Y","v":2.84},{"d":"2024-09-17","s":"ITA 5Y","v":2.92},{"d":"2024-09-18","s":"ITA 5Y","v":2.88},{"d":"2024-09-20","s":"ITA 5Y","v":2.82},{"d":"2024-09-22","s":"ITA 5Y","v":2.8},{"d":"2024-09-24","s":"ITA 5Y","v":2.77},{"d":"2024-09-27","s":"ITA 5Y","v":2.8},{"d":"2024-09-29","s":"ITA 5Y","v":2.76},{"d":"2024-10-01","s":"ITA 5Y","v":2.76},{"d":"2024-10-03","s":"ITA 5Y","v":2.87},{"d":"2024-10-04","s":"ITA 5Y","v":2.97},{"d":"2024-10-06","s":"ITA 5Y","v":2.97},{"d":"2024-10-10","s":"ITA 5Y","v":2.95},{"d":"2024-10-12","s":"ITA 5Y","v":2.9},{"d":"2024-10-15","s":"ITA 5Y","v":2.84},{"d":"2024-10-17","s":"ITA 5Y","v":2.76},{"d":"2024-10-18","s":"ITA 5Y","v":2.87},{"d":"2024-10-20","s":"ITA 5Y","v":2.92},{"d":"2024-10-23","s":"ITA 5Y","v":2.87},{"d":"2024-10-25","s":"ITA 5Y","v":2.9},{"d":"2024-10-27","s":"ITA 5Y","v":2.93},{"d":"2024-10-29","s":"ITA 5Y","v":3.05},{"d":"2024-11-01","s":"ITA 5Y","v":3.08},{"d":"2024-11-04","s":"ITA 5Y","v":3.1},{"d":"2024-11-06","s":"ITA 5Y","v":3.07},{"d":"2024-11-08","s":"ITA 5Y","v":2.98},{"d":"2024-11-11","s":"ITA 5Y","v":3.0},{"d":"2024-11-13","s":"ITA 5Y","v":2.92},{"d":"2024-11-15","s":"ITA 5Y","v":2.95},{"d":"2024-11-17","s":"ITA 5Y","v":2.95},{"d":"2024-11-20","s":"ITA 5Y","v":2.92},{"d":"2024-11-22","s":"ITA 5Y","v":2.85},{"d":"2024-11-25","s":"ITA 5Y","v":2.85},{"d":"2024-11-27","s":"ITA 5Y","v":2.77},{"d":"2024-11-29","s":"ITA 5Y","v":2.69},{"d":"2024-11-30","s":"ITA 5Y","v":2.64},{"d":"2024-12-03","s":"ITA 5Y","v":2.64},{"d":"2024-12-06","s":"ITA 5Y","v":2.63},{"d":"2024-12-09","s":"ITA 5Y","v":2.61},{"d":"2024-12-10","s":"ITA 5Y","v":2.61},{"d":"2024-12-12","s":"ITA 5Y","v":2.77},{"d":"2024-12-15","s":"ITA 5Y","v":2.77},{"d":"2024-12-17","s":"ITA 5Y","v":2.8},{"d":"2024-12-19","s":"ITA 5Y","v":2.84},{"d":"2024-12-23","s":"ITA 5Y","v":2.85},{"d":"2024-12-26","s":"ITA 5Y","v":2.85},
{"d":"2024-01-01","s":"ITA 2Y","v":2.98},{"d":"2024-01-02","s":"ITA 2Y","v":3.03},{"d":"2024-01-04","s":"ITA 2Y","v":3.11},{"d":"2024-01-07","s":"ITA 2Y","v":3.13},{"d":"2024-01-09","s":"ITA 2Y","v":3.18},{"d":"2024-01-11","s":"ITA 2Y","v":3.19},{"d":"2024-01-12","s":"ITA 2Y","v":3.16},{"d":"2024-01-14","s":"ITA 2Y","v":3.08},{"d":"2024-01-16","s":"ITA 2Y","v":3.1},{"d":"2024-01-17","s":"ITA 2Y","v":3.2},{"d":"2024-01-20","s":"ITA 2Y","v":3.23},{"d":"2024-01-22","s":"ITA 2Y","v":3.2},{"d":"2024-01-24","s":"ITA 2Y","v":3.2},{"d":"2024-01-25","s":"ITA 2Y","v":3.23},{"d":"2024-01-27","s":"ITA 2Y","v":3.15},{"d":"2024-01-28","s":"ITA 2Y","v":3.07},{"d":"2024-01-30","s":"ITA 2Y","v":3.05},{"d":"2024-01-31","s":"ITA 2Y","v":3.07},{"d":"2024-02-02","s":"ITA 2Y","v":3.15},{"d":"2024-02-03","s":"ITA 2Y","v":3.2},{"d":"2024-02-05","s":"ITA 2Y","v":3.28},{"d":"2024-02-07","s":"ITA 2Y","v":3.26},{"d":"2024-02-09","s":"ITA 2Y","v":3.31},{"d":"2024-02-11","s":"ITA 2Y","v":3.34},{"d":"2024-02-13","s":"ITA 2Y","v":3.34},{"d":"2024-02-15","s":"ITA 2Y","v":3.36},{"d":"2024-02-17","s":"ITA 2Y","v":3.37},{"d":"2024-02-19","s":"ITA 2Y","v":3.39},{"d":"2024-02-21","s":"ITA 2Y","v":3.36},{"d":"2024-02-23","s":"ITA 2Y","v":3.41},{"d":"2024-02-26","s":"ITA 2Y","v":3.42},{"d":"2024-02-28","s":"ITA 2Y","v":3.44},{"d":"2024-03-01","s":"ITA 2Y","v":3.45},{"d":"2024-03-03","s":"ITA 2Y","v":3.42},{"d":"2024-03-05","s":"ITA 2Y","v":3.39},{"d":"2024-03-07","s":"ITA 2Y","v":3.34},{"d":"2024-03-09","s":"ITA 2Y","v":3.31},{"d":"2024-03-11","s":"ITA 2Y","v":3.34},{"d":"2024-03-13","s":"ITA 2Y","v":3.36},{"d":"2024-03-15","s":"ITA 2Y","v":3.44},{"d":"2024-03-18","s":"ITA 2Y","v":3.42},{"d":"2024-03-20","s":"ITA 2Y","v":3.42},{"d":"2024-03-22","s":"ITA 2Y","v":3.37},{"d":"2024-03-24","s":"ITA 2Y","v":3.39},{"d":"2024-03-26","s":"ITA 2Y","v":3.37},{"d":"2024-03-28","s":"ITA 2Y","v":3.37},{"d":"2024-03-29","s":"ITA 2Y","v":3.42},{"d":"2024-04-01","s":"ITA 2Y","v":3.42},{"d":"2024-04-03","s":"ITA 2Y","v":3.42},{"d":"2024-04-05","s":"ITA 2Y","v":3.46},{"d":"2024-04-07","s":"ITA 2Y","v":3.44},{"d":"2024-04-10","s":"ITA 2Y","v":3.49},{"d":"2024-04-12","s":"ITA 2Y","v":3.49},{"d":"2024-04-14","s":"ITA 2Y","v":3.49},{"d":"2024-04-16","s":"ITA 2Y","v":3.52},{"d":"2024-04-18","s":"ITA 2Y","v":3.54},{"d":"2024-04-21","s":"ITA 2Y","v":3.52},{"d":"2024-04-23","s":"ITA 2Y","v":3.49},{"d":"2024-04-25","s":"ITA 2Y","v":3.5},{"d":"2024-04-27","s":"ITA 2Y","v":3.49},{"d":"2024-04-29","s":"ITA 2Y","v":3.49},{"d":"2024-04-30","s":"ITA 2Y","v":3.52},{"d":"2024-05-02","s":"ITA 2Y","v":3.42},{"d":"2024-05-04","s":"ITA 2Y","v":3.44},{"d":"2024-05-07","s":"ITA 2Y","v":3.46},{"d":"2024-05-09","s":"ITA 2Y","v":3.49},{"d":"2024-05-11","s":"ITA 2Y","v":3.46},{"d":"2024-05-14","s":"ITA 2Y","v":3.42},{"d":"2024-05-16","s":"ITA 2Y","v":3.46},{"d":"2024-05-19","s":"ITA 2Y","v":3.46},{"d":"2024-05-21","s":"ITA 2Y","v":3.5},{"d":"2024-05-23","s":"ITA 2Y","v":3.57},{"d":"2024-05-25","s":"ITA 2Y","v":3.54},{"d":"2024-05-27","s":"ITA 2Y","v":3.59},{"d":"2024-05-29","s":"ITA 2Y","v":3.55},{"d":"2024-05-31","s":"ITA 2Y","v":3.5},{"d":"2024-06-02","s":"ITA 2Y","v":3.49},{"d":"2024-06-05","s":"ITA 2Y","v":3.49},{"d":"2024-06-06","s":"ITA 2Y","v":3.55},{"d":"2024-06-08","s":"ITA 2Y","v":3.62},{"d":"2024-06-10","s":"ITA 2Y","v":3.6},{"d":"2024-06-12","s":"ITA 2Y","v":3.52},{"d":"2024-06-15","s":"ITA 2Y","v":3.5},{"d":"2024-06-18","s":"ITA 2Y","v":3.52},{"d":"2024-06-20","s":"ITA 2Y","v":3.49},{"d":"2024-06-22","s":"ITA 2Y","v":3.47},{"d":"2024-06-24","s":"ITA 2Y","v":3.47},{"d":"2024-06-26","s":"ITA 2Y","v":3.52},{"d":"2024-06-28","s":"ITA 2Y","v":3.55},{"d":"2024-06-30","s":"ITA 2Y","v":3.51},{"d":"2024-07-02","s":"ITA 2Y","v":3.49},{"d":"2024-07-04","s":"ITA 2Y","v":3.46},{"d":"2024-07-06","s":"ITA 2Y","v":3.41},{"d":"2024-07-08","s":"ITA 2Y","v":3.44},{"d":"2024-07-10","s":"ITA 2Y","v":3.33},{"d":"2024-07-12","s":"ITA 2Y","v":3.28},{"d":"2024-07-15","s":"ITA 2Y","v":3.23},{"d":"2024-07-17","s":"ITA 2Y","v":3.26},{"d":"2024-07-19","s":"ITA 2Y","v":3.29},{"d":"2024-07-22","s":"ITA 2Y","v":3.26},{"d":"2024-07-25","s":"ITA 2Y","v":3.24},{"d":"2024-07-26","s":"ITA 2Y","v":3.2},{"d":"2024-07-28","s":"ITA 2Y","v":3.13},{"d":"2024-07-30","s":"ITA 2Y","v":3.03},{"d":"2024-08-01","s":"ITA 2Y","v":2.92},{"d":"2024-08-04","s":"ITA 2Y","v":2.9},{"d":"2024-08-07","s":"ITA 2Y","v":2.9},{"d":"2024-08-09","s":"ITA 2Y","v":2.87},{"d":"2024-08-11","s":"ITA 2Y","v":2.85},{"d":"2024-08-13","s":"ITA 2Y","v":2.82},{"d":"2024-08-15","s":"ITA 2Y","v":2.94},{"d":"2024-08-17","s":"ITA 2Y","v":2.9},{"d":"2024-08-19","s":"ITA 2Y","v":2.89},{"d":"2024-08-21","s":"ITA 2Y","v":2.85},{"d":"2024-08-23","s":"ITA 2Y","v":2.82},{"d":"2024-08-24","s":"ITA 2Y","v":2.87},{"d":"2024-08-26","s":"ITA 2Y","v":2.89},{"d":"2024-08-29","s":"ITA 2Y","v":2.87},{"d":"2024-08-31","s":"ITA 2Y","v":2.9},{"d":"2024-09-02","s":"ITA 2Y","v":2.87},{"d":"2024-09-04","s":"ITA 2Y","v":2.77},{"d":"2024-09-07","s":"ITA 2Y","v":2.72},{"d":"2024-09-10","s":"ITA 2Y","v":2.69},{"d":"2024-09-13","s":"ITA 2Y","v":2.63},{"d":"2024-09-16","s":"ITA 2Y","v":2.64},{"d":"2024-09-17","s":"ITA 2Y","v":2.71},{"d":"2024-09-19","s":"ITA 2Y","v":2.64},{"d":"2024-09-22","s":"ITA 2Y","v":2.58},{"d":"2024-09-24","s":"ITA 2Y","v":2.53},{"d":"2024-09-27","s":"ITA 2Y","v":2.5},{"d":"2024-09-30","s":"ITA 2Y","v":2.46},{"d":"2024-10-02","s":"ITA 2Y","v":2.53},{"d":"2024-10-04","s":"ITA 2Y","v":2.64},{"d":"2024-10-06","s":"ITA 2Y","v":2.64},{"d":"2024-10-08","s":"ITA 2Y","v":2.66},{"d":"2024-10-11","s":"ITA 2Y","v":2.67},{"d":"2024-10-14","s":"ITA 2Y","v":2.61},{"d":"2024-10-16","s":"ITA 2Y","v":2.58},{"d":"2024-10-17","s":"ITA 2Y","v":2.51},{"d":"2024-10-19","s":"ITA 2Y","v":2.58},{"d":"2024-10-22","s":"ITA 2Y","v":2.58},{"d":"2024-10-24","s":"ITA 2Y","v":2.54},{"d":"2024-10-26","s":"ITA 2Y","v":2.56},{"d":"2024-10-27","s":"ITA 2Y","v":2.61},{"d":"2024-10-29","s":"ITA 2Y","v":2.72},{"d":"2024-11-01","s":"ITA 2Y","v":2.77},{"d":"2024-11-04","s":"ITA 2Y","v":2.77},{"d":"2024-11-06","s":"ITA 2Y","v":2.72},{"d":"2024-11-08","s":"ITA 2Y","v":2.66},{"d":"2024-11-11","s":"ITA 2Y","v":2.63},{"d":"2024-11-13","s":"ITA 2Y","v":2.58},{"d":"2024-11-15","s":"ITA 2Y","v":2.61},{"d":"2024-11-18","s":"ITA 2Y","v":2.61},{"d":"2024-11-20","s":"ITA 2Y","v":2.56},{"d":"2024-11-22","s":"ITA 2Y","v":2.46},{"d":"2024-11-26","s":"ITA 2Y","v":2.46},{"d":"2024-11-28","s":"ITA 2Y","v":2.43},{"d":"2024-11-30","s":"ITA 2Y","v":2.33},{"d":"2024-12-03","s":"ITA 2Y","v":2.35},{"d":"2024-12-06","s":"ITA 2Y","v":2.33},{"d":"2024-12-10","s":"ITA 2Y","v":2.3},{"d":"2024-12-12","s":"ITA 2Y","v":2.4},{"d":"2024-12-16","s":"ITA 2Y","v":2.4},{"d":"2024-12-19","s":"ITA 2Y","v":2.38},{"d":"2024-12-23","s":"ITA 2Y","v":2.41},{"d":"2024-12-27","s":"ITA 2Y","v":2.43},
{"d":"2024-01-01","s":"GER 2Y","v":2.38},{"d":"2024-01-03","s":"GER 2Y","v":2.45},{"d":"2024-01-05","s":"GER 2Y","v":2.54},{"d":"2024-01-08","s":"GER 2Y","v":2.56},{"d":"2024-01-10","s":"GER 2Y","v":2.57},{"d":"2024-01-11","s":"GER 2Y","v":2.64},{"d":"2024-01-12","s":"GER 2Y","v":2.51},{"d":"2024-01-15","s":"GER 2Y","v":2.57},{"d":"2024-01-17","s":"GER 2Y","v":2.59},{"d":"2024-01-19","s":"GER 2Y","v":2.71},{"d":"2024-01-21","s":"GER 2Y","v":2.72},{"d":"2024-01-23","s":"GER 2Y","v":2.69},{"d":"2024-01-24","s":"GER 2Y","v":2.71},{"d":"2024-01-26","s":"GER 2Y","v":2.64},{"d":"2024-01-28","s":"GER 2Y","v":2.61},{"d":"2024-01-29","s":"GER 2Y","v":2.56},{"d":"2024-01-31","s":"GER 2Y","v":2.41},{"d":"2024-02-02","s":"GER 2Y","v":2.54},{"d":"2024-02-04","s":"GER 2Y","v":2.59},{"d":"2024-02-07","s":"GER 2Y","v":2.61},{"d":"2024-02-09","s":"GER 2Y","v":2.71},{"d":"2024-02-12","s":"GER 2Y","v":2.71},{"d":"2024-02-14","s":"GER 2Y","v":2.76},{"d":"2024-02-16","s":"GER 2Y","v":2.8},{"d":"2024-02-18","s":"GER 2Y","v":2.79},{"d":"2024-02-20","s":"GER 2Y","v":2.84},{"d":"2024-02-22","s":"GER 2Y","v":2.87},{"d":"2024-02-24","s":"GER 2Y","v":2.87},{"d":"2024-02-26","s":"GER 2Y","v":2.9},{"d":"2024-02-28","s":"GER 2Y","v":2.91},{"d":"2024-03-01","s":"GER 2Y","v":2.9},{"d":"2024-03-04","s":"GER 2Y","v":2.9},{"d":"2024-03-06","s":"GER 2Y","v":2.85},{"d":"2024-03-09","s":"GER 2Y","v":2.77},{"d":"2024-03-11","s":"GER 2Y","v":2.82},{"d":"2024-03-13","s":"GER 2Y","v":2.9},{"d":"2024-03-16","s":"GER 2Y","v":2.95},{"d":"2024-03-18","s":"GER 2Y","v":2.95},{"d":"2024-03-21","s":"GER 2Y","v":2.9},{"d":"2024-03-23","s":"GER 2Y","v":2.82},{"d":"2024-03-25","s":"GER 2Y","v":2.87},{"d":"2024-03-27","s":"GER 2Y","v":2.82},{"d":"2024-03-30","s":"GER 2Y","v":2.84},{"d":"2024-04-02","s":"GER 2Y","v":2.84},{"d":"2024-04-04","s":"GER 2Y","v":2.89},{"d":"2024-04-06","s":"GER 2Y","v":2.92},{"d":"2024-04-08","s":"GER 2Y","v":2.89},{"d":"2024-04-10","s":"GER 2Y","v":2.95},{"d":"2024-04-11","s":"GER 2Y","v":2.87},{"d":"2024-04-13","s":"GER 2Y","v":2.92},{"d":"2024-04-15","s":"GER 2Y","v":2.95},{"d":"2024-04-18","s":"GER 2Y","v":2.95},{"d":"2024-04-19","s":"GER 2Y","v":2.98},{"d":"2024-04-22","s":"GER 2Y","v":2.92},{"d":"2024-04-23","s":"GER 2Y","v":2.94},{"d":"2024-04-24","s":"GER 2Y","v":3.0},{"d":"2024-04-26","s":"GER 2Y","v":2.97},{"d":"2024-04-28","s":"GER 2Y","v":3.0},{"d":"2024-04-30","s":"GER 2Y","v":3.03},{"d":"2024-05-01","s":"GER 2Y","v":2.94},{"d":"2024-05-03","s":"GER 2Y","v":2.9},{"d":"2024-05-06","s":"GER 2Y","v":2.94},{"d":"2024-05-09","s":"GER 2Y","v":2.95},{"d":"2024-05-11","s":"GER 2Y","v":2.98},{"d":"2024-05-14","s":"GER 2Y","v":2.9},{"d":"2024-05-16","s":"GER 2Y","v":2.98},{"d":"2024-05-19","s":"GER 2Y","v":2.98},{"d":"2024-05-22","s":"GER 2Y","v":3.07},{"d":"2024-05-25","s":"GER 2Y","v":3.07},{"d":"2024-05-28","s":"GER 2Y","v":3.1},{"d":"2024-05-31","s":"GER 2Y","v":3.05},{"d":"2024-06-03","s":"GER 2Y","v":3.0},{"d":"2024-06-05","s":"GER 2Y","v":3.0},{"d":"2024-06-07","s":"GER 2Y","v":3.08},{"d":"2024-06-09","s":"GER 2Y","v":3.07},{"d":"2024-06-11","s":"GER 2Y","v":2.98},{"d":"2024-06-13","s":"GER 2Y","v":2.77},{"d":"2024-06-15","s":"GER 2Y","v":2.8},{"d":"2024-06-17","s":"GER 2Y","v":2.8},{"d":"2024-06-20","s":"GER 2Y","v":2.79},{"d":"2024-06-23","s":"GER 2Y","v":2.8},{"d":"2024-06-26","s":"GER 2Y","v":2.82},{"d":"2024-06-28","s":"GER 2Y","v":2.9},{"d":"2024-07-01","s":"GER 2Y","v":2.92},{"d":"2024-07-03","s":"GER 2Y","v":2.94},{"d":"2024-07-05","s":"GER 2Y","v":2.9},{"d":"2024-07-08","s":"GER 2Y","v":2.92},{"d":"2024-07-10","s":"GER 2Y","v":2.8},{"d":"2024-07-12","s":"GER 2Y","v":2.79},{"d":"2024-07-15","s":"GER 2Y","v":2.77},{"d":"2024-07-17","s":"GER 2Y","v":2.76},{"d":"2024-07-20","s":"GER 2Y","v":2.8},{"d":"2024-07-22","s":"GER 2Y","v":2.71},{"d":"2024-07-25","s":"GER 2Y","v":2.64},{"d":"2024-07-27","s":"GER 2Y","v":2.58},{"d":"2024-07-30","s":"GER 2Y","v":2.54},{"d":"2024-07-31","s":"GER 2Y","v":2.41},{"d":"2024-08-02","s":"GER 2Y","v":2.35},{"d":"2024-08-05","s":"GER 2Y","v":2.38},{"d":"2024-08-08","s":"GER 2Y","v":2.4},{"d":"2024-08-11","s":"GER 2Y","v":2.36},{"d":"2024-08-13","s":"GER 2Y","v":2.35},{"d":"2024-08-14","s":"GER 2Y","v":2.45},{"d":"2024-08-18","s":"GER 2Y","v":2.41},{"d":"2024-08-21","s":"GER 2Y","v":2.38},{"d":"2024-08-23","s":"GER 2Y","v":2.39},{"d":"2024-08-26","s":"GER 2Y","v":2.38},{"d":"2024-08-29","s":"GER 2Y","v":2.36},{"d":"2024-08-31","s":"GER 2Y","v":2.4},{"d":"2024-09-02","s":"GER 2Y","v":2.38},{"d":"2024-09-04","s":"GER 2Y","v":2.32},{"d":"2024-09-07","s":"GER 2Y","v":2.25},{"d":"2024-09-10","s":"GER 2Y","v":2.2},{"d":"2024-09-12","s":"GER 2Y","v":2.2},{"d":"2024-09-14","s":"GER 2Y","v":2.19},{"d":"2024-09-17","s":"GER 2Y","v":2.24},{"d":"2024-09-18","s":"GER 2Y","v":2.27},{"d":"2024-09-19","s":"GER 2Y","v":2.15},{"d":"2024-09-22","s":"GER 2Y","v":2.12},{"d":"2024-09-25","s":"GER 2Y","v":2.11},{"d":"2024-09-28","s":"GER 2Y","v":2.07},{"d":"2024-09-30","s":"GER 2Y","v":2.04},{"d":"2024-10-02","s":"GER 2Y","v":2.07},{"d":"2024-10-04","s":"GER 2Y","v":2.19},{"d":"2024-10-09","s":"GER 2Y","v":2.22},{"d":"2024-10-12","s":"GER 2Y","v":2.24},{"d":"2024-10-14","s":"GER 2Y","v":2.2},{"d":"2024-10-16","s":"GER 2Y","v":2.17},{"d":"2024-10-18","s":"GER 2Y","v":2.2},{"d":"2024-10-20","s":"GER 2Y","v":2.15},{"d":"2024-10-22","s":"GER 2Y","v":2.07},{"d":"2024-10-25","s":"GER 2Y","v":2.12},{"d":"2024-10-27","s":"GER 2Y","v":2.13},{"d":"2024-10-30","s":"GER 2Y","v":2.25},{"d":"2024-11-01","s":"GER 2Y","v":2.27},{"d":"2024-11-04","s":"GER 2Y","v":2.27},{"d":"2024-11-06","s":"GER 2Y","v":2.22},{"d":"2024-11-08","s":"GER 2Y","v":2.14},{"d":"2024-11-11","s":"GER 2Y","v":2.12},{"d":"2024-11-13","s":"GER 2Y","v":2.09},{"d":"2024-11-15","s":"GER 2Y","v":2.17},{"d":"2024-11-18","s":"GER 2Y","v":2.15},{"d":"2024-11-20","s":"GER 2Y","v":2.12},{"d":"2024-11-22","s":"GER 2Y","v":2.0},{"d":"2024-11-25","s":"GER 2Y","v":2.0},{"d":"2024-11-28","s":"GER 2Y","v":1.92},{"d":"2024-11-30","s":"GER 2Y","v":1.88},{"d":"2024-12-03","s":"GER 2Y","v":1.94},{"d":"2024-12-06","s":"GER 2Y","v":1.97},{"d":"2024-12-09","s":"GER 2Y","v":1.94},{"d":"2024-12-12","s":"GER 2Y","v":2.06},{"d":"2024-12-15","s":"GER 2Y","v":2.06},{"d":"2024-12-17","s":"GER 2Y","v":2.02},{"d":"2024-12-19","s":"GER 2Y","v":2.06},{"d":"2024-12-22","s":"GER 2Y","v":2.02},{"d":"2024-12-26","s":"GER 2Y","v":2.06},{"d":"2024-12-27","s":"GER 2Y","v":2.11},
{"d":"2024-01-01","s":"GER 10Y","v":2.01},{"d":"2024-01-02","s":"GER 10Y","v":2.06},{"d":"2024-01-05","s":"GER 10Y","v":2.15},{"d":"2024-01-07","s":"GER 10Y","v":2.16},{"d":"2024-01-09","s":"GER 10Y","v":2.15},{"d":"2024-01-10","s":"GER 10Y","v":2.22},{"d":"2024-01-11","s":"GER 10Y","v":2.24},{"d":"2024-01-13","s":"GER 10Y","v":2.19},{"d":"2024-01-15","s":"GER 10Y","v":2.22},{"d":"2024-01-17","s":"GER 10Y","v":2.25},{"d":"2024-01-19","s":"GER 10Y","v":2.33},{"d":"2024-01-20","s":"GER 10Y","v":2.35},{"d":"2024-01-22","s":"GER 10Y","v":2.32},{"d":"2024-01-24","s":"GER 10Y","v":2.35},{"d":"2024-01-25","s":"GER 10Y","v":2.29},{"d":"2024-01-27","s":"GER 10Y","v":2.29},{"d":"2024-01-28","s":"GER 10Y","v":2.25},{"d":"2024-01-30","s":"GER 10Y","v":2.27},{"d":"2024-01-31","s":"GER 10Y","v":2.15},{"d":"2024-02-02","s":"GER 10Y","v":2.29},{"d":"2024-02-04","s":"GER 10Y","v":2.32},{"d":"2024-02-06","s":"GER 10Y","v":2.37},{"d":"2024-02-08","s":"GER 10Y","v":2.38},{"d":"2024-02-10","s":"GER 10Y","v":2.37},{"d":"2024-02-12","s":"GER 10Y","v":2.4},{"d":"2024-02-13","s":"GER 10Y","v":2.37},{"d":"2024-02-15","s":"GER 10Y","v":2.43},{"d":"2024-02-16","s":"GER 10Y","v":2.4},{"d":"2024-02-18","s":"GER 10Y","v":2.41},{"d":"2024-02-19","s":"GER 10Y","v":2.43},{"d":"2024-02-21","s":"GER 10Y","v":2.37},{"d":"2024-02-22","s":"GER 10Y","v":2.45},{"d":"2024-02-24","s":"GER 10Y","v":2.37},{"d":"2024-02-26","s":"GER 10Y","v":2.41},{"d":"2024-02-27","s":"GER 10Y","v":2.46},{"d":"2024-02-29","s":"GER 10Y","v":2.43},{"d":"2024-03-01","s":"GER 10Y","v":2.41},{"d":"2024-03-03","s":"GER 10Y","v":2.4},{"d":"2024-03-05","s":"GER 10Y","v":2.35},{"d":"2024-03-07","s":"GER 10Y","v":2.33},{"d":"2024-03-08","s":"GER 10Y","v":2.29},{"d":"2024-03-10","s":"GER 10Y","v":2.3},{"d":"2024-03-12","s":"GER 10Y","v":2.33},{"d":"2024-03-14","s":"GER 10Y","v":2.41},{"d":"2024-03-16","s":"GER 10Y","v":2.46},{"d":"2024-03-18","s":"GER 10Y","v":2.45},{"d":"2024-03-20","s":"GER 10Y","v":2.41},{"d":"2024-03-22","s":"GER 10Y","v":2.33},{"d":"2024-03-24","s":"GER 10Y","v":2.37},{"d":"2024-03-26","s":"GER 10Y","v":2.32},{"d":"2024-03-28","s":"GER 10Y","v":2.3},{"d":"2024-03-31","s":"GER 10Y","v":2.35},{"d":"2024-04-02","s":"GER 10Y","v":2.38},{"d":"2024-04-04","s":"GER 10Y","v":2.4},{"d":"2024-04-06","s":"GER 10Y","v":2.43},{"d":"2024-04-08","s":"GER 10Y","v":2.38},{"d":"2024-04-10","s":"GER 10Y","v":2.46},{"d":"2024-04-11","s":"GER 10Y","v":2.37},{"d":"2024-04-13","s":"GER 10Y","v":2.45},{"d":"2024-04-15","s":"GER 10Y","v":2.46},{"d":"2024-04-17","s":"GER 10Y","v":2.5},{"d":"2024-04-19","s":"GER 10Y","v":2.48},{"d":"2024-04-21","s":"GER 10Y","v":2.5},{"d":"2024-04-23","s":"GER 10Y","v":2.54},{"d":"2024-04-24","s":"GER 10Y","v":2.63},{"d":"2024-04-26","s":"GER 10Y","v":2.56},{"d":"2024-04-29","s":"GER 10Y","v":2.6},{"d":"2024-04-30","s":"GER 10Y","v":2.54},{"d":"2024-05-01","s":"GER 10Y","v":2.51},{"d":"2024-05-03","s":"GER 10Y","v":2.43},{"d":"2024-05-06","s":"GER 10Y","v":2.5},{"d":"2024-05-08","s":"GER 10Y","v":2.51},{"d":"2024-05-10","s":"GER 10Y","v":2.56},{"d":"2024-05-11","s":"GER 10Y","v":2.52},{"d":"2024-05-13","s":"GER 10Y","v":2.43},{"d":"2024-05-15","s":"GER 10Y","v":2.51},{"d":"2024-05-18","s":"GER 10Y","v":2.54},{"d":"2024-05-20","s":"GER 10Y","v":2.56},{"d":"2024-05-22","s":"GER 10Y","v":2.64},{"d":"2024-05-23","s":"GER 10Y","v":2.56},{"d":"2024-05-25","s":"GER 10Y","v":2.61},{"d":"2024-05-27","s":"GER 10Y","v":2.67},{"d":"2024-05-29","s":"GER 10Y","v":2.69},{"d":"2024-05-31","s":"GER 10Y","v":2.61},{"d":"2024-06-02","s":"GER 10Y","v":2.58},{"d":"2024-06-04","s":"GER 10Y","v":2.51},{"d":"2024-06-06","s":"GER 10Y","v":2.62},{"d":"2024-06-07","s":"GER 10Y","v":2.67},{"d":"2024-06-09","s":"GER 10Y","v":2.64},{"d":"2024-06-11","s":"GER 10Y","v":2.58},{"d":"2024-06-13","s":"GER 10Y","v":2.38},{"d":"2024-06-15","s":"GER 10Y","v":2.41},{"d":"2024-06-17","s":"GER 10Y","v":2.4},{"d":"2024-06-19","s":"GER 10Y","v":2.43},{"d":"2024-06-21","s":"GER 10Y","v":2.41},{"d":"2024-06-24","s":"GER 10Y","v":2.41},{"d":"2024-06-26","s":"GER 10Y","v":2.45},{"d":"2024-06-27","s":"GER 10Y","v":2.53},{"d":"2024-06-29","s":"GER 10Y","v":2.61},{"d":"2024-06-30","s":"GER 10Y","v":2.61},{"d":"2024-07-02","s":"GER 10Y","v":2.58},{"d":"2024-07-05","s":"GER 10Y","v":2.54},{"d":"2024-07-08","s":"GER 10Y","v":2.58},{"d":"2024-07-10","s":"GER 10Y","v":2.51},{"d":"2024-07-11","s":"GER 10Y","v":2.46},{"d":"2024-07-13","s":"GER 10Y","v":2.43},{"d":"2024-07-15","s":"GER 10Y","v":2.41},{"d":"2024-07-17","s":"GER 10Y","v":2.43},{"d":"2024-07-19","s":"GER 10Y","v":2.48},{"d":"2024-07-22","s":"GER 10Y","v":2.45},{"d":"2024-07-24","s":"GER 10Y","v":2.41},{"d":"2024-07-27","s":"GER 10Y","v":2.35},{"d":"2024-07-29","s":"GER 10Y","v":2.33},{"d":"2024-07-31","s":"GER 10Y","v":2.24},{"d":"2024-08-02","s":"GER 10Y","v":2.19},{"d":"2024-08-05","s":"GER 10Y","v":2.2},{"d":"2024-08-07","s":"GER 10Y","v":2.27},{"d":"2024-08-09","s":"GER 10Y","v":2.22},{"d":"2024-08-11","s":"GER 10Y","v":2.2},{"d":"2024-08-13","s":"GER 10Y","v":2.19},{"d":"2024-08-15","s":"GER 10Y","v":2.25},{"d":"2024-08-18","s":"GER 10Y","v":2.24},{"d":"2024-08-21","s":"GER 10Y","v":2.2},{"d":"2024-08-23","s":"GER 10Y","v":2.25},{"d":"2024-08-26","s":"GER 10Y","v":2.27},{"d":"2024-08-28","s":"GER 10Y","v":2.28},{"d":"2024-08-30","s":"GER 10Y","v":2.33},{"d":"2024-09-02","s":"GER 10Y","v":2.28},{"d":"2024-09-04","s":"GER 10Y","v":2.23},{"d":"2024-09-07","s":"GER 10Y","v":2.19},{"d":"2024-09-10","s":"GER 10Y","v":2.15},{"d":"2024-09-12","s":"GER 10Y","v":2.17},{"d":"2024-09-14","s":"GER 10Y","v":2.14},{"d":"2024-09-17","s":"GER 10Y","v":2.17},{"d":"2024-09-18","s":"GER 10Y","v":2.2},{"d":"2024-09-20","s":"GER 10Y","v":2.15},{"d":"2024-09-22","s":"GER 10Y","v":2.14},{"d":"2024-09-25","s":"GER 10Y","v":2.17},{"d":"2024-09-27","s":"GER 10Y","v":2.12},{"d":"2024-09-29","s":"GER 10Y","v":2.07},{"d":"2024-09-30","s":"GER 10Y","v":2.02},{"d":"2024-10-02","s":"GER 10Y","v":2.11},{"d":"2024-10-04","s":"GER 10Y","v":2.25},{"d":"2024-10-06","s":"GER 10Y","v":2.24},{"d":"2024-10-08","s":"GER 10Y","v":2.27},{"d":"2024-10-10","s":"GER 10Y","v":2.25},{"d":"2024-10-12","s":"GER 10Y","v":2.27},{"d":"2024-10-14","s":"GER 10Y","v":2.22},{"d":"2024-10-16","s":"GER 10Y","v":2.19},{"d":"2024-10-17","s":"GER 10Y","v":2.2},{"d":"2024-10-18","s":"GER 10Y","v":2.3},{"d":"2024-10-20","s":"GER 10Y","v":2.32},{"d":"2024-10-23","s":"GER 10Y","v":2.28},{"d":"2024-10-25","s":"GER 10Y","v":2.3},{"d":"2024-10-27","s":"GER 10Y","v":2.33},{"d":"2024-10-29","s":"GER 10Y","v":2.38},{"d":"2024-11-01","s":"GER 10Y","v":2.4},{"d":"2024-11-03","s":"GER 10Y","v":2.41},{"d":"2024-11-05","s":"GER 10Y","v":2.43},{"d":"2024-11-06","s":"GER 10Y","v":2.45},{"d":"2024-11-08","s":"GER 10Y","v":2.35},{"d":"2024-11-10","s":"GER 10Y","v":2.38},{"d":"2024-11-12","s":"GER 10Y","v":2.35},{"d":"2024-11-15","s":"GER 10Y","v":2.38},{"d":"2024-11-17","s":"GER 10Y","v":2.35},{"d":"2024-11-19","s":"GER 10Y","v":2.33},{"d":"2024-11-22","s":"GER 10Y","v":2.2},{"d":"2024-11-25","s":"GER 10Y","v":2.19},{"d":"2024-11-29","s":"GER 10Y","v":2.04},{"d":"2024-12-03","s":"GER 10Y","v":2.06},{"d":"2024-12-04","s":"GER 10Y","v":2.11},{"d":"2024-12-07","s":"GER 10Y","v":2.11},{"d":"2024-12-10","s":"GER 10Y","v":2.12},{"d":"2024-12-12","s":"GER 10Y","v":2.25},{"d":"2024-12-15","s":"GER 10Y","v":2.24},{"d":"2024-12-16","s":"GER 10Y","v":2.25},{"d":"2024-12-18","s":"GER 10Y","v":2.3},{"d":"2024-12-20","s":"GER 10Y","v":2.32},{"d":"2024-12-22","s":"GER 10Y","v":2.32},{"d":"2024-12-24","s":"GER 10Y","v":2.32},{"d":"2024-12-25","s":"GER 10Y","v":2.4},{"d":"2024-12-27","s":"GER 10Y","v":2.37},
{"d":"2024-01-01","s":"GER 5Y","v":1.94},{"d":"2024-01-02","s":"GER 5Y","v":2.0},{"d":"2024-01-04","s":"GER 5Y","v":2.05},{"d":"2024-01-07","s":"GER 5Y","v":2.1},{"d":"2024-01-08","s":"GER 5Y","v":2.07},{"d":"2024-01-10","s":"GER 5Y","v":2.15},{"d":"2024-01-11","s":"GER 5Y","v":2.17},{"d":"2024-01-12","s":"GER 5Y","v":2.09},{"d":"2024-01-15","s":"GER 5Y","v":2.12},{"d":"2024-01-17","s":"GER 5Y","v":2.14},{"d":"2024-01-19","s":"GER 5Y","v":2.19},{"d":"2024-01-21","s":"GER 5Y","v":2.24},{"d":"2024-01-23","s":"GER 5Y","v":2.28},{"d":"2024-01-24","s":"GER 5Y","v":2.24},{"d":"2024-01-26","s":"GER 5Y","v":2.2},{"d":"2024-01-28","s":"GER 5Y","v":2.17},{"d":"2024-01-30","s":"GER 5Y","v":2.12},{"d":"2024-01-31","s":"GER 5Y","v":2.07},{"d":"2024-02-01","s":"GER 5Y","v":2.15},{"d":"2024-02-04","s":"GER 5Y","v":2.22},{"d":"2024-02-06","s":"GER 5Y","v":2.24},{"d":"2024-02-09","s":"GER 5Y","v":2.32},{"d":"2024-02-11","s":"GER 5Y","v":2.35},{"d":"2024-02-13","s":"GER 5Y","v":2.37},{"d":"2024-02-15","s":"GER 5Y","v":2.4},{"d":"2024-02-16","s":"GER 5Y","v":2.39},{"d":"2024-02-18","s":"GER 5Y","v":2.41},{"d":"2024-02-19","s":"GER 5Y","v":2.42},{"d":"2024-02-21","s":"GER 5Y","v":2.38},{"d":"2024-02-22","s":"GER 5Y","v":2.44},{"d":"2024-02-24","s":"GER 5Y","v":2.38},{"d":"2024-02-26","s":"GER 5Y","v":2.41},{"d":"2024-02-27","s":"GER 5Y","v":2.45},{"d":"2024-02-29","s":"GER 5Y","v":2.43},{"d":"2024-03-01","s":"GER 5Y","v":2.41},{"d":"2024-03-03","s":"GER 5Y","v":2.39},{"d":"2024-03-05","s":"GER 5Y","v":2.34},{"d":"2024-03-07","s":"GER 5Y","v":2.32},{"d":"2024-03-08","s":"GER 5Y","v":2.28},{"d":"2024-03-10","s":"GER 5Y","v":2.29},{"d":"2024-03-12","s":"GER 5Y","v":2.33},{"d":"2024-03-14","s":"GER 5Y","v":2.4},{"d":"2024-03-16","s":"GER 5Y","v":2.45},{"d":"2024-03-18","s":"GER 5Y","v":2.44},{"d":"2024-03-20","s":"GER 5Y","v":2.4},{"d":"2024-03-22","s":"GER 5Y","v":2.34},{"d":"2024-03-24","s":"GER 5Y","v":2.36},{"d":"2024-03-26","s":"GER 5Y","v":2.31},{"d":"2024-03-28","s":"GER 5Y","v":2.3},{"d":"2024-03-31","s":"GER 5Y","v":2.34},{"d":"2024-04-02","s":"GER 5Y","v":2.37},{"d":"2024-04-04","s":"GER 5Y","v":2.39},{"d":"2024-04-06","s":"GER 5Y","v":2.42},{"d":"2024-04-08","s":"GER 5Y","v":2.39},{"d":"2024-04-10","s":"GER 5Y","v":2.45},{"d":"2024-04-11","s":"GER 5Y","v":2.38},{"d":"2024-04-13","s":"GER 5Y","v":2.44},{"d":"2024-04-15","s":"GER 5Y","v":2.46},{"d":"2024-04-17","s":"GER 5Y","v":2.49},{"d":"2024-04-19","s":"GER 5Y","v":2.48},{"d":"2024-04-21","s":"GER 5Y","v":2.51},{"d":"2024-04-23","s":"GER 5Y","v":2.54},{"d":"2024-04-24","s":"GER 5Y","v":2.61},{"d":"2024-04-26","s":"GER 5Y","v":2.56},{"d":"2024-04-29","s":"GER 5Y","v":2.59},{"d":"2024-04-30","s":"GER 5Y","v":2.55},{"d":"2024-05-01","s":"GER 5Y","v":2.51},{"d":"2024-05-03","s":"GER 5Y","v":2.44},{"d":"2024-05-06","s":"GER 5Y","v":2.49},{"d":"2024-05-08","s":"GER 5Y","v":2.52},{"d":"2024-05-10","s":"GER 5Y","v":2.55},{"d":"2024-05-11","s":"GER 5Y","v":2.53},{"d":"2024-05-13","s":"GER 5Y","v":2.45},{"d":"2024-05-15","s":"GER 5Y","v":2.52},{"d":"2024-05-18","s":"GER 5Y","v":2.56},{"d":"2024-05-20","s":"GER 5Y","v":2.57},{"d":"2024-05-22","s":"GER 5Y","v":2.64},{"d":"2024-05-23","s":"GER 5Y","v":2.58},{"d":"2024-05-25","s":"GER 5Y","v":2.63},{"d":"2024-05-27","s":"GER 5Y","v":2.68},{"d":"2024-05-29","s":"GER 5Y","v":2.7},{"d":"2024-05-31","s":"GER 5Y","v":2.62},{"d":"2024-06-02","s":"GER 5Y","v":2.59},{"d":"2024-06-04","s":"GER 5Y","v":2.53},{"d":"2024-06-06","s":"GER 5Y","v":2.64},{"d":"2024-06-07","s":"GER 5Y","v":2.68},{"d":"2024-06-09","s":"GER 5Y","v":2.65},{"d":"2024-06-11","s":"GER 5Y","v":2.58},{"d":"2024-06-13","s":"GER 5Y","v":2.39},{"d":"2024-06-15","s":"GER 5Y","v":2.41},{"d":"2024-06-17","s":"GER 5Y","v":2.4},{"d":"2024-06-19","s":"GER 5Y","v":2.43},{"d":"2024-06-21","s":"GER 5Y","v":2.41},{"d":"2024-06-24","s":"GER 5Y","v":2.42},{"d":"2024-06-26","s":"GER 5Y","v":2.46},{"d":"2024-06-27","s":"GER 5Y","v":2.54},{"d":"2024-06-29","s":"GER 5Y","v":2.6},{"d":"2024-06-30","s":"GER 5Y","v":2.6},{"d":"2024-07-03","s":"GER 5Y","v":2.58},{"d":"2024-07-08","s":"GER 5Y","v":2.54},{"d":"2024-07-11","s":"GER 5Y","v":2.45},{"d":"2024-07-13","s":"GER 5Y","v":2.4},{"d":"2024-07-16","s":"GER 5Y","v":2.4},{"d":"2024-07-18","s":"GER 5Y","v":2.41},{"d":"2024-07-20","s":"GER 5Y","v":2.43},{"d":"2024-07-23","s":"GER 5Y","v":2.37},{"d":"2024-07-25","s":"GER 5Y","v":2.3},{"d":"2024-07-28","s":"GER 5Y","v":2.25},{"d":"2024-07-30","s":"GER 5Y","v":2.24},{"d":"2024-07-31","s":"GER 5Y","v":2.12},{"d":"2024-08-02","s":"GER 5Y","v":2.09},{"d":"2024-08-04","s":"GER 5Y","v":2.09},{"d":"2024-08-07","s":"GER 5Y","v":2.11},{"d":"2024-08-10","s":"GER 5Y","v":2.11},{"d":"2024-08-12","s":"GER 5Y","v":2.07},{"d":"2024-08-15","s":"GER 5Y","v":2.15},{"d":"2024-08-18","s":"GER 5Y","v":2.14},{"d":"2024-08-20","s":"GER 5Y","v":2.09},{"d":"2024-08-24","s":"GER 5Y","v":2.15},{"d":"2024-08-26","s":"GER 5Y","v":2.15},{"d":"2024-08-28","s":"GER 5Y","v":2.17},{"d":"2024-08-30","s":"GER 5Y","v":2.2},{"d":"2024-09-01","s":"GER 5Y","v":2.15},{"d":"2024-09-03","s":"GER 5Y","v":2.1},{"d":"2024-09-07","s":"GER 5Y","v":2.02},{"d":"2024-09-10","s":"GER 5Y","v":1.99},{"d":"2024-09-12","s":"GER 5Y","v":2.0},{"d":"2024-09-14","s":"GER 5Y","v":2.02},{"d":"2024-09-17","s":"GER 5Y","v":2.06},{"d":"2024-09-19","s":"GER 5Y","v":2.02},{"d":"2024-09-21","s":"GER 5Y","v":1.98},{"d":"2024-09-23","s":"GER 5Y","v":1.99},{"d":"2024-09-25","s":"GER 5Y","v":1.98},{"d":"2024-09-27","s":"GER 5Y","v":1.91},{"d":"2024-09-29","s":"GER 5Y","v":1.88},{"d":"2024-10-01","s":"GER 5Y","v":1.93},{"d":"2024-10-02","s":"GER 5Y","v":2.02},{"d":"2024-10-04","s":"GER 5Y","v":2.1},{"d":"2024-10-07","s":"GER 5Y","v":2.1},{"d":"2024-10-10","s":"GER 5Y","v":2.1},{"d":"2024-10-14","s":"GER 5Y","v":2.06},{"d":"2024-10-16","s":"GER 5Y","v":2.04},{"d":"2024-10-18","s":"GER 5Y","v":2.09},{"d":"2024-10-20","s":"GER 5Y","v":2.15},{"d":"2024-10-22","s":"GER 5Y","v":2.1},{"d":"2024-10-24","s":"GER 5Y","v":2.07},{"d":"2024-10-26","s":"GER 5Y","v":2.09},{"d":"2024-10-27","s":"GER 5Y","v":2.15},{"d":"2024-10-29","s":"GER 5Y","v":2.25},{"d":"2024-10-31","s":"GER 5Y","v":2.27},{"d":"2024-11-03","s":"GER 5Y","v":2.28},{"d":"2024-11-05","s":"GER 5Y","v":2.24},{"d":"2024-11-09","s":"GER 5Y","v":2.15},{"d":"2024-11-12","s":"GER 5Y","v":2.17},{"d":"2024-11-15","s":"GER 5Y","v":2.19},{"d":"2024-11-17","s":"GER 5Y","v":2.14},{"d":"2024-11-20","s":"GER 5Y","v":2.15},{"d":"2024-11-22","s":"GER 5Y","v":2.04},{"d":"2024-11-25","s":"GER 5Y","v":2.0},{"d":"2024-11-27","s":"GER 5Y","v":1.94},{"d":"2024-11-30","s":"GER 5Y","v":1.91},{"d":"2024-12-03","s":"GER 5Y","v":1.97},{"d":"2024-12-05","s":"GER 5Y","v":1.95},{"d":"2024-12-08","s":"GER 5Y","v":1.94},{"d":"2024-12-10","s":"GER 5Y","v":1.97},{"d":"2024-12-12","s":"GER 5Y","v":2.07},{"d":"2024-12-15","s":"GER 5Y","v":2.06},{"d":"2024-12-18","s":"GER 5Y","v":2.11},{"d":"2024-12-21","s":"GER 5Y","v":2.12},{"d":"2024-12-23","s":"GER 5Y","v":2.11},{"d":"2024-12-25","s":"GER 5Y","v":2.15},{"d":"2024-12-27","s":"GER 5Y","v":2.15}
]},
"mark":{"type":"line","strokeWidth":2.3,"strokeCap":"butt","strokeJoin":"round"},
"encoding":{
"x":{"field":"d","type":"temporal","scale":{"type":"utc","domain":[{"year":2024,"month":1,"date":1,"utc":true},{"year":2024,"month":12,"date":31,"utc":true}]},
"axis":{"title":null,"grid":false,"domain":false,"ticks":false,"labelPadding":14,"labelFontSize":13,"labelColor":"#262626","labelFont":"Liberation Sans Narrow, DejaVu Sans Condensed, Roboto","labelExpr":"utcFormat(datum.value, '%d.%m.%Y')","labelOverlap":false,"labelFlush":false,"labelAngle":0,
"values":[{"year":2024,"month":1,"date":1,"utc":true},{"year":2024,"month":2,"date":1,"utc":true},{"year":2024,"month":3,"date":1,"utc":true},{"year":2024,"month":4,"date":1,"utc":true},{"year":2024,"month":5,"date":1,"utc":true},{"year":2024,"month":6,"date":1,"utc":true},{"year":2024,"month":7,"date":1,"utc":true},{"year":2024,"month":8,"date":1,"utc":true},{"year":2024,"month":9,"date":1,"utc":true},{"year":2024,"month":10,"date":1,"utc":true},{"year":2024,"month":11,"date":1,"utc":true},{"year":2024,"month":12,"date":1,"utc":true}]}},
"y":{"field":"v","type":"quantitative","scale":{"domain":[0,6],"nice":false,"zero":true},
"axis":{"title":null,"values":[0,1,2,3,4,5,6],"grid":true,"gridColor":"#D9D9D9","gridWidth":1.3,"domain":false,"ticks":false,"labelPadding":13,"labelFontSize":14,"labelColor":"#404040","labelFont":"Liberation Sans Narrow, DejaVu Sans Condensed, Roboto"}},
"color":{"field":"s","type":"nominal",
"scale":{"domain":["USA 2Y","USA 5Y","USA 10Y","GER 2Y","GER 5Y","GER 10Y","ITA 2Y","ITA 5Y","ITA 10Y"],"range":["#E2001A","#E2001A","#E2001A","#000000","#000000","#000000","#BFBFBF","#A6A6A6","#A6A6A6"]},
"legend":{"title":null,"orient":"none","direction":"horizontal","legendX":352,"legendY":406,"columns":3,"symbolType":"stroke","symbolSize":2304,"symbolStrokeWidth":2.3,"labelFontSize":13.5,"labelColor":"#595959","labelFont":"Liberation Sans Narrow, DejaVu Sans Condensed, Roboto","labelOffset":6,"columnPadding":53,"rowPadding":-15}},
"strokeDash":{"field":"s","type":"nominal",
"scale":{"domain":["USA 2Y","USA 5Y","USA 10Y","GER 2Y","GER 5Y","GER 10Y","ITA 2Y","ITA 5Y","ITA 10Y"],"range":[[2.2,2.8],[10,7],[1,0],[2.2,2.8],[10,7],[1,0],[2.2,2.8],[10,7],[1,0]]},
"legend":{"title":null,"orient":"none","direction":"horizontal","legendX":352,"legendY":406,"columns":3,"symbolType":"stroke","symbolSize":2304,"symbolStrokeWidth":2.3,"labelFontSize":13.5,"labelColor":"#595959","labelFont":"Liberation Sans Narrow, DejaVu Sans Condensed, Roboto","labelOffset":6,"columnPadding":53,"rowPadding":-15}}
},
"config":{"view":{"stroke":null},"font":"Liberation Sans Narrow, DejaVu Sans Condensed, Roboto"}
}
